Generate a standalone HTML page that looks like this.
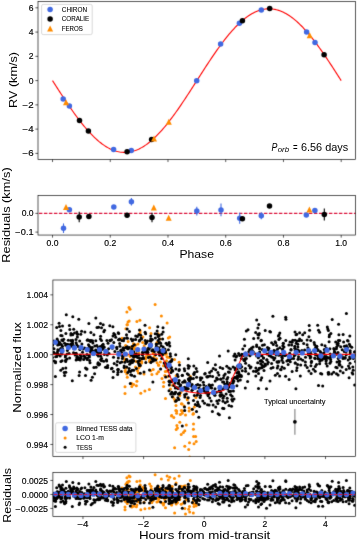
<!DOCTYPE html>
<html><head><meta charset="utf-8"><style>
html,body{margin:0;padding:0;background:#fff;overflow:hidden;}
svg{display:block;will-change:transform;font-family:"Liberation Sans", sans-serif;}
text{stroke:#000;stroke-width:0.15px;}
text.a{stroke:none;}
text.l{stroke-width:0.08px;}
</style></head><body>
<svg width="357" height="541" viewBox="0 0 357 541">
<defs><filter id="soft" x="0" y="0" width="357" height="541" filterUnits="userSpaceOnUse" color-interpolation-filters="sRGB"><feConvolveMatrix order="3" kernelMatrix="1 8 1 8 64 8 1 8 1" edgeMode="duplicate"/></filter></defs>
<g filter="url(#soft)">
<rect width="357" height="541" fill="#fff"/>
<polyline points="52.52,80.60 53.72,82.48 54.93,84.36 56.13,86.23 57.33,88.11 58.53,89.97 59.74,91.83 60.94,93.69 62.14,95.53 63.35,97.36 64.55,99.19 65.75,101.00 66.95,102.79 68.16,104.57 69.36,106.33 70.56,108.08 71.76,109.81 72.97,111.51 74.17,113.20 75.37,114.86 76.58,116.50 77.78,118.12 78.98,119.71 80.18,121.27 81.39,122.81 82.59,124.31 83.79,125.79 85.00,127.24 86.20,128.65 87.40,130.03 88.60,131.38 89.81,132.69 91.01,133.96 92.21,135.20 93.41,136.41 94.62,137.57 95.82,138.70 97.02,139.78 98.23,140.82 99.43,141.83 100.63,142.79 101.83,143.71 103.04,144.58 104.24,145.41 105.44,146.20 106.65,146.94 107.85,147.64 109.05,148.29 110.25,148.89 111.46,149.45 112.66,149.96 113.86,150.43 115.07,150.84 116.27,151.21 117.47,151.53 118.67,151.80 119.88,152.02 121.08,152.19 122.28,152.31 123.48,152.38 124.69,152.41 125.89,152.38 127.09,152.31 128.30,152.19 129.50,152.02 130.70,151.80 131.90,151.53 133.11,151.21 134.31,150.84 135.51,150.43 136.72,149.96 137.92,149.45 139.12,148.89 140.32,148.29 141.53,147.64 142.73,146.94 143.93,146.20 145.13,145.41 146.34,144.58 147.54,143.71 148.74,142.79 149.95,141.83 151.15,140.82 152.35,139.78 153.55,138.70 154.76,137.57 155.96,136.41 157.16,135.20 158.37,133.96 159.57,132.69 160.77,131.38 161.97,130.03 163.18,128.65 164.38,127.24 165.58,125.79 166.79,124.31 167.99,122.81 169.19,121.27 170.39,119.71 171.60,118.12 172.80,116.50 174.00,114.86 175.20,113.20 176.41,111.51 177.61,109.81 178.81,108.08 180.02,106.33 181.22,104.57 182.42,102.79 183.62,101.00 184.83,99.19 186.03,97.36 187.23,95.53 188.44,93.69 189.64,91.83 190.84,89.97 192.04,88.11 193.25,86.23 194.45,84.36 195.65,82.48 196.86,80.60 198.06,78.72 199.26,76.84 200.46,74.97 201.67,73.09 202.87,71.23 204.07,69.37 205.27,67.51 206.48,65.67 207.68,63.84 208.88,62.01 210.09,60.20 211.29,58.41 212.49,56.63 213.69,54.87 214.90,53.12 216.10,51.39 217.30,49.69 218.51,48.00 219.71,46.34 220.91,44.70 222.11,43.08 223.32,41.49 224.52,39.93 225.72,38.39 226.92,36.89 228.13,35.41 229.33,33.96 230.53,32.55 231.74,31.17 232.94,29.82 234.14,28.51 235.34,27.24 236.55,26.00 237.75,24.79 238.95,23.63 240.16,22.50 241.36,21.42 242.56,20.38 243.76,19.37 244.97,18.41 246.17,17.49 247.37,16.62 248.58,15.79 249.78,15.00 250.98,14.26 252.18,13.56 253.39,12.91 254.59,12.31 255.79,11.75 256.99,11.24 258.20,10.77 259.40,10.36 260.60,9.99 261.81,9.67 263.01,9.40 264.21,9.18 265.41,9.01 266.62,8.89 267.82,8.82 269.02,8.79 270.23,8.82 271.43,8.89 272.63,9.01 273.83,9.18 275.04,9.40 276.24,9.67 277.44,9.99 278.64,10.36 279.85,10.77 281.05,11.24 282.25,11.75 283.46,12.31 284.66,12.91 285.86,13.56 287.06,14.26 288.27,15.00 289.47,15.79 290.67,16.62 291.88,17.49 293.08,18.41 294.28,19.37 295.48,20.38 296.69,21.42 297.89,22.50 299.09,23.63 300.30,24.79 301.50,26.00 302.70,27.24 303.90,28.51 305.11,29.82 306.31,31.17 307.51,32.55 308.71,33.96 309.92,35.41 311.12,36.89 312.32,38.39 313.53,39.93 314.73,41.49 315.93,43.08 317.13,44.70 318.34,46.34 319.54,48.00 320.74,49.69 321.95,51.39 323.15,53.12 324.35,54.87 325.55,56.63 326.76,58.41 327.96,60.20 329.16,62.01 330.36,63.84 331.57,65.67 332.77,67.51 333.97,69.37 335.18,71.23 336.38,73.09 337.58,74.97 338.78,76.84 339.99,78.72 341.19,80.60" fill="none" stroke="#ff0000" stroke-width="1.1"/>
<circle cx="63.20" cy="98.90" r="2.75" fill="#4169e1"/>
<circle cx="69.40" cy="105.90" r="2.75" fill="#4169e1"/>
<circle cx="113.60" cy="149.60" r="2.75" fill="#4169e1"/>
<circle cx="131.30" cy="150.40" r="2.75" fill="#4169e1"/>
<circle cx="196.70" cy="80.75" r="2.75" fill="#4169e1"/>
<circle cx="220.60" cy="44.10" r="2.75" fill="#4169e1"/>
<circle cx="239.40" cy="23.30" r="2.75" fill="#4169e1"/>
<circle cx="261.30" cy="10.10" r="2.75" fill="#4169e1"/>
<circle cx="306.60" cy="31.90" r="2.75" fill="#4169e1"/>
<circle cx="315.00" cy="42.40" r="2.75" fill="#4169e1"/>
<circle cx="79.50" cy="120.40" r="2.75" fill="#000"/>
<circle cx="88.40" cy="131.10" r="2.75" fill="#000"/>
<circle cx="127.10" cy="151.80" r="2.75" fill="#000"/>
<circle cx="151.60" cy="139.60" r="2.75" fill="#000"/>
<circle cx="242.40" cy="20.80" r="2.75" fill="#000"/>
<circle cx="269.70" cy="8.40" r="2.75" fill="#000"/>
<circle cx="324.10" cy="54.80" r="2.75" fill="#000"/>
<path d="M66.00 99.20L69.00 105.20L63.00 105.20Z" fill="#ff8c00"/>
<path d="M154.00 135.40L157.00 141.40L151.00 141.40Z" fill="#ff8c00"/>
<path d="M168.80 118.70L171.80 124.70L165.80 124.70Z" fill="#ff8c00"/>
<path d="M309.70 32.30L312.70 38.30L306.70 38.30Z" fill="#ff8c00"/>
<rect x="38.0" y="1.47" width="317.50" height="157.98" fill="none" stroke="#000" stroke-width="0.65"/>
<line x1="35.40" y1="7.82" x2="38.00" y2="7.82" stroke="#000" stroke-width="0.65" />
<line x1="35.40" y1="32.08" x2="38.00" y2="32.08" stroke="#000" stroke-width="0.65" />
<line x1="35.40" y1="56.34" x2="38.00" y2="56.34" stroke="#000" stroke-width="0.65" />
<line x1="35.40" y1="80.60" x2="38.00" y2="80.60" stroke="#000" stroke-width="0.65" />
<line x1="35.40" y1="104.86" x2="38.00" y2="104.86" stroke="#000" stroke-width="0.65" />
<line x1="35.40" y1="129.12" x2="38.00" y2="129.12" stroke="#000" stroke-width="0.65" />
<line x1="35.40" y1="153.38" x2="38.00" y2="153.38" stroke="#000" stroke-width="0.65" />
<line x1="52.52" y1="159.45" x2="52.52" y2="162.05" stroke="#000" stroke-width="0.65" />
<line x1="110.25" y1="159.45" x2="110.25" y2="162.05" stroke="#000" stroke-width="0.65" />
<line x1="167.99" y1="159.45" x2="167.99" y2="162.05" stroke="#000" stroke-width="0.65" />
<line x1="225.72" y1="159.45" x2="225.72" y2="162.05" stroke="#000" stroke-width="0.65" />
<line x1="283.46" y1="159.45" x2="283.46" y2="162.05" stroke="#000" stroke-width="0.65" />
<line x1="341.19" y1="159.45" x2="341.19" y2="162.05" stroke="#000" stroke-width="0.65" />
<rect x="41.6" y="4.4" width="50.6" height="30.2" rx="1.6" fill="#fff" fill-opacity="0.8" stroke="#cccccc" stroke-width="0.75"/>
<circle cx="50.10" cy="9.60" r="2.75" fill="#4169e1"/>
<circle cx="50.10" cy="19.10" r="2.75" fill="#000"/>
<path d="M50.10 25.60L53.10 31.60L47.10 31.60Z" fill="#ff8c00"/>
<line x1="38.00" y1="213.36" x2="355.50" y2="213.36" stroke="#dc143c" stroke-width="1.15" stroke-dasharray="3.5 1.5" stroke-dashoffset="4.1"/>
<line x1="63.50" y1="223.40" x2="63.50" y2="233.00" stroke="#4169e1" stroke-width="1.1" />
<circle cx="63.50" cy="228.20" r="2.75" fill="#4169e1"/>
<circle cx="69.40" cy="209.80" r="2.75" fill="#4169e1"/>
<circle cx="113.80" cy="206.90" r="2.75" fill="#4169e1"/>
<line x1="131.40" y1="198.00" x2="131.40" y2="205.60" stroke="#4169e1" stroke-width="1.1" />
<circle cx="131.40" cy="201.80" r="2.75" fill="#4169e1"/>
<line x1="196.80" y1="206.70" x2="196.80" y2="215.50" stroke="#4169e1" stroke-width="1.1" />
<circle cx="196.80" cy="211.10" r="2.75" fill="#4169e1"/>
<line x1="221.00" y1="203.50" x2="221.00" y2="216.30" stroke="#4169e1" stroke-width="1.1" />
<circle cx="221.00" cy="209.90" r="2.75" fill="#4169e1"/>
<line x1="239.70" y1="212.70" x2="239.70" y2="223.70" stroke="#4169e1" stroke-width="1.1" />
<circle cx="239.70" cy="218.20" r="2.75" fill="#4169e1"/>
<line x1="261.30" y1="212.20" x2="261.30" y2="219.20" stroke="#4169e1" stroke-width="1.1" />
<circle cx="261.30" cy="215.70" r="2.75" fill="#4169e1"/>
<circle cx="306.30" cy="214.90" r="2.75" fill="#4169e1"/>
<circle cx="314.90" cy="210.60" r="2.75" fill="#4169e1"/>
<line x1="79.20" y1="211.70" x2="79.20" y2="222.30" stroke="#000" stroke-width="1.1" />
<circle cx="79.20" cy="217.00" r="2.75" fill="#000"/>
<circle cx="88.90" cy="216.50" r="2.75" fill="#000"/>
<circle cx="127.10" cy="215.20" r="2.75" fill="#000"/>
<line x1="152.00" y1="212.70" x2="152.00" y2="222.30" stroke="#000" stroke-width="1.1" />
<circle cx="152.00" cy="217.50" r="2.75" fill="#000"/>
<circle cx="242.40" cy="218.70" r="2.75" fill="#000"/>
<circle cx="269.50" cy="206.10" r="2.75" fill="#000"/>
<line x1="324.30" y1="208.40" x2="324.30" y2="220.40" stroke="#000" stroke-width="1.1" />
<circle cx="324.30" cy="214.40" r="2.75" fill="#000"/>
<path d="M66.00 203.90L69.00 209.90L63.00 209.90Z" fill="#ff8c00"/>
<path d="M153.80 204.40L156.80 210.40L150.80 210.40Z" fill="#ff8c00"/>
<path d="M168.70 214.70L171.70 220.70L165.70 220.70Z" fill="#ff8c00"/>
<path d="M309.40 206.40L312.40 212.40L306.40 212.40Z" fill="#ff8c00"/>
<rect x="38.0" y="195.45" width="317.50" height="39.60" fill="none" stroke="#000" stroke-width="0.65"/>
<line x1="35.40" y1="213.36" x2="38.00" y2="213.36" stroke="#000" stroke-width="0.65" />
<line x1="35.40" y1="232.10" x2="38.00" y2="232.10" stroke="#000" stroke-width="0.65" />
<line x1="52.52" y1="235.05" x2="52.52" y2="237.65" stroke="#000" stroke-width="0.65" />
<line x1="110.25" y1="235.05" x2="110.25" y2="237.65" stroke="#000" stroke-width="0.65" />
<line x1="167.99" y1="235.05" x2="167.99" y2="237.65" stroke="#000" stroke-width="0.65" />
<line x1="225.72" y1="235.05" x2="225.72" y2="237.65" stroke="#000" stroke-width="0.65" />
<line x1="283.46" y1="235.05" x2="283.46" y2="237.65" stroke="#000" stroke-width="0.65" />
<line x1="341.19" y1="235.05" x2="341.19" y2="237.65" stroke="#000" stroke-width="0.65" />
<clipPath id="cc"><rect x="52.9" y="280.0" width="302.60" height="176.45"/></clipPath>
<g clip-path="url(#cc)">
<g fill="#ff8c00"><circle cx="122.0" cy="338.3" r="1.5"/><circle cx="122.6" cy="357.2" r="1.5"/><circle cx="123.0" cy="356.7" r="1.5"/><circle cx="124.7" cy="361.2" r="1.5"/><circle cx="124.8" cy="359.0" r="1.5"/><circle cx="125.0" cy="386.7" r="1.5"/><circle cx="125.0" cy="393.4" r="1.5"/><circle cx="125.2" cy="370.6" r="1.5"/><circle cx="125.3" cy="371.7" r="1.5"/><circle cx="125.6" cy="345.5" r="1.5"/><circle cx="125.9" cy="328.7" r="1.5"/><circle cx="126.1" cy="367.9" r="1.5"/><circle cx="126.1" cy="355.0" r="1.5"/><circle cx="126.8" cy="374.1" r="1.5"/><circle cx="126.9" cy="311.9" r="1.5"/><circle cx="127.0" cy="324.7" r="1.5"/><circle cx="127.3" cy="324.7" r="1.5"/><circle cx="127.3" cy="355.0" r="1.5"/><circle cx="127.3" cy="377.2" r="1.5"/><circle cx="128.0" cy="322.1" r="1.5"/><circle cx="128.1" cy="341.4" r="1.5"/><circle cx="129.0" cy="307.4" r="1.5"/><circle cx="129.2" cy="321.1" r="1.5"/><circle cx="130.0" cy="309.3" r="1.5"/><circle cx="130.2" cy="356.6" r="1.5"/><circle cx="130.5" cy="361.0" r="1.5"/><circle cx="130.8" cy="346.9" r="1.5"/><circle cx="131.6" cy="383.5" r="1.5"/><circle cx="131.8" cy="386.4" r="1.5"/><circle cx="132.1" cy="354.1" r="1.5"/><circle cx="132.5" cy="349.1" r="1.5"/><circle cx="132.7" cy="347.9" r="1.5"/><circle cx="133.5" cy="343.8" r="1.5"/><circle cx="133.6" cy="384.5" r="1.5"/><circle cx="133.7" cy="359.8" r="1.5"/><circle cx="134.4" cy="346.6" r="1.5"/><circle cx="135.2" cy="349.0" r="1.5"/><circle cx="135.5" cy="366.9" r="1.5"/><circle cx="135.8" cy="345.0" r="1.5"/><circle cx="136.2" cy="361.6" r="1.5"/><circle cx="136.3" cy="353.5" r="1.5"/><circle cx="136.4" cy="385.7" r="1.5"/><circle cx="136.9" cy="381.2" r="1.5"/><circle cx="136.9" cy="321.5" r="1.5"/><circle cx="137.4" cy="350.6" r="1.5"/><circle cx="137.5" cy="370.8" r="1.5"/><circle cx="138.0" cy="343.9" r="1.5"/><circle cx="138.4" cy="373.1" r="1.5"/><circle cx="138.5" cy="362.1" r="1.5"/><circle cx="138.6" cy="368.1" r="1.5"/><circle cx="138.8" cy="352.9" r="1.5"/><circle cx="139.1" cy="361.4" r="1.5"/><circle cx="139.7" cy="366.5" r="1.5"/><circle cx="139.9" cy="320.3" r="1.5"/><circle cx="140.1" cy="333.1" r="1.5"/><circle cx="140.2" cy="330.8" r="1.5"/><circle cx="140.8" cy="393.3" r="1.5"/><circle cx="141.6" cy="361.4" r="1.5"/><circle cx="141.7" cy="363.0" r="1.5"/><circle cx="141.8" cy="358.4" r="1.5"/><circle cx="142.7" cy="342.4" r="1.5"/><circle cx="142.9" cy="337.1" r="1.5"/><circle cx="144.0" cy="374.0" r="1.5"/><circle cx="144.2" cy="345.7" r="1.5"/><circle cx="144.9" cy="390.9" r="1.5"/><circle cx="145.6" cy="358.9" r="1.5"/><circle cx="146.1" cy="356.5" r="1.5"/><circle cx="146.4" cy="349.3" r="1.5"/><circle cx="146.9" cy="352.7" r="1.5"/><circle cx="148.7" cy="355.2" r="1.5"/><circle cx="149.4" cy="389.6" r="1.5"/><circle cx="149.5" cy="361.5" r="1.5"/><circle cx="149.6" cy="327.7" r="1.5"/><circle cx="149.7" cy="360.3" r="1.5"/><circle cx="150.7" cy="370.8" r="1.5"/><circle cx="151.0" cy="333.6" r="1.5"/><circle cx="151.3" cy="339.8" r="1.5"/><circle cx="151.5" cy="343.9" r="1.5"/><circle cx="151.9" cy="374.6" r="1.5"/><circle cx="153.2" cy="369.5" r="1.5"/><circle cx="153.3" cy="353.4" r="1.5"/><circle cx="153.4" cy="352.3" r="1.5"/><circle cx="154.2" cy="356.4" r="1.5"/><circle cx="154.2" cy="360.2" r="1.5"/><circle cx="155.1" cy="304.5" r="1.5"/><circle cx="156.6" cy="358.7" r="1.5"/><circle cx="156.9" cy="373.8" r="1.5"/><circle cx="157.0" cy="342.5" r="1.5"/><circle cx="157.1" cy="362.7" r="1.5"/><circle cx="157.4" cy="347.3" r="1.5"/><circle cx="157.5" cy="351.1" r="1.5"/><circle cx="158.2" cy="333.7" r="1.5"/><circle cx="158.3" cy="335.7" r="1.5"/><circle cx="158.4" cy="365.1" r="1.5"/><circle cx="158.5" cy="371.8" r="1.5"/><circle cx="158.7" cy="365.2" r="1.5"/><circle cx="160.2" cy="339.1" r="1.5"/><circle cx="160.4" cy="362.0" r="1.5"/><circle cx="161.4" cy="316.1" r="1.5"/><circle cx="162.0" cy="378.4" r="1.5"/><circle cx="162.0" cy="355.8" r="1.5"/><circle cx="163.5" cy="365.8" r="1.5"/><circle cx="163.5" cy="386.6" r="1.5"/><circle cx="163.5" cy="350.0" r="1.5"/><circle cx="163.7" cy="382.2" r="1.5"/><circle cx="164.6" cy="352.2" r="1.5"/><circle cx="164.8" cy="375.5" r="1.5"/><circle cx="165.1" cy="354.3" r="1.5"/><circle cx="165.3" cy="371.4" r="1.5"/><circle cx="165.5" cy="398.6" r="1.5"/><circle cx="165.8" cy="351.1" r="1.5"/><circle cx="166.3" cy="353.7" r="1.5"/><circle cx="166.5" cy="360.7" r="1.5"/><circle cx="166.9" cy="376.7" r="1.5"/><circle cx="167.0" cy="371.3" r="1.5"/><circle cx="167.0" cy="356.8" r="1.5"/><circle cx="167.1" cy="323.1" r="1.5"/><circle cx="167.6" cy="357.3" r="1.5"/><circle cx="168.3" cy="338.1" r="1.5"/><circle cx="169.0" cy="364.9" r="1.5"/><circle cx="169.5" cy="380.7" r="1.5"/><circle cx="169.5" cy="357.6" r="1.5"/><circle cx="169.5" cy="364.1" r="1.5"/><circle cx="169.7" cy="337.0" r="1.5"/><circle cx="170.5" cy="389.0" r="1.5"/><circle cx="171.4" cy="370.8" r="1.5"/><circle cx="171.6" cy="416.0" r="1.5"/><circle cx="171.7" cy="415.6" r="1.5"/><circle cx="172.2" cy="371.1" r="1.5"/><circle cx="172.6" cy="385.3" r="1.5"/><circle cx="173.0" cy="397.3" r="1.5"/><circle cx="173.8" cy="417.6" r="1.5"/><circle cx="174.5" cy="359.6" r="1.5"/><circle cx="174.6" cy="399.6" r="1.5"/><circle cx="174.6" cy="447.8" r="1.5"/><circle cx="175.3" cy="401.2" r="1.5"/><circle cx="175.8" cy="410.5" r="1.5"/><circle cx="176.0" cy="405.4" r="1.5"/><circle cx="176.1" cy="375.8" r="1.5"/><circle cx="176.2" cy="429.5" r="1.5"/><circle cx="176.6" cy="413.3" r="1.5"/><circle cx="176.7" cy="410.9" r="1.5"/><circle cx="176.9" cy="425.5" r="1.5"/><circle cx="177.5" cy="428.0" r="1.5"/><circle cx="179.1" cy="362.3" r="1.5"/><circle cx="179.8" cy="422.2" r="1.5"/><circle cx="179.8" cy="395.5" r="1.5"/><circle cx="180.4" cy="414.4" r="1.5"/><circle cx="180.8" cy="392.6" r="1.5"/><circle cx="180.9" cy="388.9" r="1.5"/><circle cx="181.2" cy="434.6" r="1.5"/><circle cx="181.3" cy="410.5" r="1.5"/><circle cx="181.4" cy="403.7" r="1.5"/><circle cx="182.1" cy="403.9" r="1.5"/><circle cx="182.2" cy="413.2" r="1.5"/><circle cx="182.6" cy="410.9" r="1.5"/><circle cx="183.4" cy="432.4" r="1.5"/><circle cx="183.5" cy="389.8" r="1.5"/><circle cx="184.1" cy="406.0" r="1.5"/><circle cx="184.8" cy="430.8" r="1.5"/><circle cx="184.8" cy="446.3" r="1.5"/><circle cx="185.1" cy="388.9" r="1.5"/><circle cx="185.5" cy="461.0" r="1.5"/><circle cx="185.5" cy="414.9" r="1.5"/><circle cx="186.3" cy="425.0" r="1.5"/><circle cx="187.3" cy="399.7" r="1.5"/><circle cx="187.4" cy="398.0" r="1.5"/><circle cx="188.7" cy="449.5" r="1.5"/><circle cx="189.1" cy="408.1" r="1.5"/><circle cx="189.1" cy="411.1" r="1.5"/><circle cx="189.5" cy="442.8" r="1.5"/><circle cx="189.7" cy="457.0" r="1.5"/><circle cx="190.3" cy="376.4" r="1.5"/><circle cx="192.1" cy="409.6" r="1.5"/><circle cx="193.0" cy="414.2" r="1.5"/><circle cx="193.3" cy="460.0" r="1.5"/><circle cx="193.4" cy="429.2" r="1.5"/><circle cx="193.4" cy="413.4" r="1.5"/><circle cx="193.5" cy="424.0" r="1.5"/><circle cx="193.6" cy="436.4" r="1.5"/><circle cx="194.0" cy="443.7" r="1.5"/><circle cx="194.3" cy="406.9" r="1.5"/><circle cx="195.6" cy="436.6" r="1.5"/><circle cx="195.9" cy="397.6" r="1.5"/><circle cx="196.2" cy="441.5" r="1.5"/></g>
<g fill="#000"><circle cx="52.2" cy="347.4" r="1.5"/><circle cx="52.4" cy="357.5" r="1.5"/><circle cx="52.7" cy="344.9" r="1.5"/><circle cx="53.6" cy="352.3" r="1.5"/><circle cx="53.9" cy="341.0" r="1.5"/><circle cx="54.0" cy="348.7" r="1.5"/><circle cx="54.1" cy="360.9" r="1.5"/><circle cx="54.5" cy="353.3" r="1.5"/><circle cx="55.4" cy="376.5" r="1.5"/><circle cx="55.5" cy="362.7" r="1.5"/><circle cx="55.6" cy="361.8" r="1.5"/><circle cx="55.7" cy="356.7" r="1.5"/><circle cx="56.7" cy="327.5" r="1.5"/><circle cx="56.8" cy="356.6" r="1.5"/><circle cx="57.1" cy="353.8" r="1.5"/><circle cx="57.1" cy="339.1" r="1.5"/><circle cx="57.4" cy="353.9" r="1.5"/><circle cx="57.5" cy="351.8" r="1.5"/><circle cx="57.6" cy="340.4" r="1.5"/><circle cx="57.7" cy="345.0" r="1.5"/><circle cx="57.8" cy="343.2" r="1.5"/><circle cx="57.8" cy="349.7" r="1.5"/><circle cx="58.4" cy="341.9" r="1.5"/><circle cx="58.5" cy="354.5" r="1.5"/><circle cx="59.1" cy="323.2" r="1.5"/><circle cx="59.3" cy="344.6" r="1.5"/><circle cx="59.5" cy="326.6" r="1.5"/><circle cx="59.7" cy="342.4" r="1.5"/><circle cx="60.2" cy="356.0" r="1.5"/><circle cx="60.3" cy="349.7" r="1.5"/><circle cx="60.7" cy="348.4" r="1.5"/><circle cx="60.7" cy="350.7" r="1.5"/><circle cx="60.8" cy="370.3" r="1.5"/><circle cx="60.8" cy="335.6" r="1.5"/><circle cx="60.9" cy="361.5" r="1.5"/><circle cx="60.9" cy="330.4" r="1.5"/><circle cx="61.4" cy="344.5" r="1.5"/><circle cx="61.5" cy="352.8" r="1.5"/><circle cx="61.8" cy="340.0" r="1.5"/><circle cx="62.0" cy="353.9" r="1.5"/><circle cx="62.1" cy="360.7" r="1.5"/><circle cx="62.1" cy="335.8" r="1.5"/><circle cx="62.1" cy="350.3" r="1.5"/><circle cx="62.4" cy="346.3" r="1.5"/><circle cx="62.5" cy="325.9" r="1.5"/><circle cx="62.6" cy="348.7" r="1.5"/><circle cx="62.8" cy="340.7" r="1.5"/><circle cx="62.9" cy="368.4" r="1.5"/><circle cx="63.7" cy="339.2" r="1.5"/><circle cx="64.2" cy="372.5" r="1.5"/><circle cx="64.6" cy="343.3" r="1.5"/><circle cx="64.6" cy="375.4" r="1.5"/><circle cx="65.3" cy="356.9" r="1.5"/><circle cx="65.4" cy="355.7" r="1.5"/><circle cx="65.6" cy="360.2" r="1.5"/><circle cx="65.7" cy="361.5" r="1.5"/><circle cx="65.8" cy="367.9" r="1.5"/><circle cx="65.8" cy="372.2" r="1.5"/><circle cx="65.8" cy="345.2" r="1.5"/><circle cx="65.9" cy="333.4" r="1.5"/><circle cx="66.3" cy="314.7" r="1.5"/><circle cx="66.8" cy="344.2" r="1.5"/><circle cx="67.0" cy="359.0" r="1.5"/><circle cx="67.2" cy="354.0" r="1.5"/><circle cx="67.4" cy="350.4" r="1.5"/><circle cx="67.5" cy="344.4" r="1.5"/><circle cx="68.3" cy="340.3" r="1.5"/><circle cx="68.6" cy="344.8" r="1.5"/><circle cx="69.1" cy="353.6" r="1.5"/><circle cx="69.4" cy="325.6" r="1.5"/><circle cx="69.6" cy="358.1" r="1.5"/><circle cx="69.8" cy="329.6" r="1.5"/><circle cx="70.5" cy="346.6" r="1.5"/><circle cx="70.8" cy="340.4" r="1.5"/><circle cx="70.8" cy="343.9" r="1.5"/><circle cx="70.9" cy="335.0" r="1.5"/><circle cx="71.0" cy="333.6" r="1.5"/><circle cx="72.2" cy="345.7" r="1.5"/><circle cx="72.2" cy="334.6" r="1.5"/><circle cx="72.3" cy="380.7" r="1.5"/><circle cx="72.4" cy="343.3" r="1.5"/><circle cx="72.5" cy="340.2" r="1.5"/><circle cx="72.5" cy="341.5" r="1.5"/><circle cx="72.6" cy="334.7" r="1.5"/><circle cx="72.8" cy="316.8" r="1.5"/><circle cx="73.4" cy="345.4" r="1.5"/><circle cx="73.5" cy="352.8" r="1.5"/><circle cx="73.7" cy="329.2" r="1.5"/><circle cx="74.2" cy="348.8" r="1.5"/><circle cx="74.5" cy="333.0" r="1.5"/><circle cx="74.8" cy="348.3" r="1.5"/><circle cx="75.1" cy="353.4" r="1.5"/><circle cx="75.2" cy="355.0" r="1.5"/><circle cx="75.9" cy="354.3" r="1.5"/><circle cx="76.0" cy="339.5" r="1.5"/><circle cx="76.1" cy="360.1" r="1.5"/><circle cx="76.1" cy="342.8" r="1.5"/><circle cx="76.2" cy="353.2" r="1.5"/><circle cx="76.8" cy="357.8" r="1.5"/><circle cx="76.8" cy="344.7" r="1.5"/><circle cx="76.8" cy="331.9" r="1.5"/><circle cx="77.3" cy="356.6" r="1.5"/><circle cx="77.3" cy="334.1" r="1.5"/><circle cx="77.4" cy="337.0" r="1.5"/><circle cx="77.5" cy="334.3" r="1.5"/><circle cx="78.2" cy="359.5" r="1.5"/><circle cx="78.3" cy="346.4" r="1.5"/><circle cx="78.8" cy="319.3" r="1.5"/><circle cx="79.1" cy="358.1" r="1.5"/><circle cx="79.1" cy="375.4" r="1.5"/><circle cx="79.6" cy="371.9" r="1.5"/><circle cx="79.7" cy="341.1" r="1.5"/><circle cx="79.8" cy="349.5" r="1.5"/><circle cx="80.2" cy="355.1" r="1.5"/><circle cx="80.2" cy="360.1" r="1.5"/><circle cx="80.2" cy="348.9" r="1.5"/><circle cx="80.8" cy="334.2" r="1.5"/><circle cx="80.9" cy="358.2" r="1.5"/><circle cx="81.2" cy="356.4" r="1.5"/><circle cx="81.6" cy="331.3" r="1.5"/><circle cx="81.9" cy="343.9" r="1.5"/><circle cx="82.5" cy="352.3" r="1.5"/><circle cx="83.0" cy="348.9" r="1.5"/><circle cx="83.7" cy="356.0" r="1.5"/><circle cx="83.7" cy="359.5" r="1.5"/><circle cx="84.6" cy="356.5" r="1.5"/><circle cx="84.7" cy="348.0" r="1.5"/><circle cx="84.9" cy="332.0" r="1.5"/><circle cx="85.4" cy="357.7" r="1.5"/><circle cx="85.5" cy="367.9" r="1.5"/><circle cx="85.5" cy="375.4" r="1.5"/><circle cx="86.3" cy="349.5" r="1.5"/><circle cx="86.5" cy="349.5" r="1.5"/><circle cx="86.6" cy="368.9" r="1.5"/><circle cx="87.0" cy="368.9" r="1.5"/><circle cx="87.0" cy="354.6" r="1.5"/><circle cx="87.1" cy="359.5" r="1.5"/><circle cx="87.2" cy="340.3" r="1.5"/><circle cx="87.5" cy="358.0" r="1.5"/><circle cx="87.7" cy="339.7" r="1.5"/><circle cx="87.8" cy="348.6" r="1.5"/><circle cx="88.1" cy="349.1" r="1.5"/><circle cx="88.5" cy="344.8" r="1.5"/><circle cx="88.9" cy="323.6" r="1.5"/><circle cx="89.1" cy="340.5" r="1.5"/><circle cx="89.2" cy="355.5" r="1.5"/><circle cx="89.2" cy="350.4" r="1.5"/><circle cx="89.2" cy="346.1" r="1.5"/><circle cx="89.4" cy="356.9" r="1.5"/><circle cx="89.6" cy="360.4" r="1.5"/><circle cx="90.0" cy="362.7" r="1.5"/><circle cx="90.5" cy="341.4" r="1.5"/><circle cx="90.7" cy="352.2" r="1.5"/><circle cx="90.7" cy="347.6" r="1.5"/><circle cx="90.8" cy="340.6" r="1.5"/><circle cx="90.9" cy="332.6" r="1.5"/><circle cx="90.9" cy="350.8" r="1.5"/><circle cx="91.1" cy="340.8" r="1.5"/><circle cx="91.1" cy="380.2" r="1.5"/><circle cx="91.5" cy="351.1" r="1.5"/><circle cx="91.7" cy="349.6" r="1.5"/><circle cx="92.3" cy="347.6" r="1.5"/><circle cx="92.4" cy="377.2" r="1.5"/><circle cx="92.5" cy="340.7" r="1.5"/><circle cx="92.8" cy="350.9" r="1.5"/><circle cx="92.9" cy="343.1" r="1.5"/><circle cx="93.8" cy="351.6" r="1.5"/><circle cx="93.9" cy="352.7" r="1.5"/><circle cx="93.9" cy="367.5" r="1.5"/><circle cx="93.9" cy="334.8" r="1.5"/><circle cx="94.6" cy="352.6" r="1.5"/><circle cx="94.6" cy="373.8" r="1.5"/><circle cx="94.8" cy="346.1" r="1.5"/><circle cx="95.7" cy="349.9" r="1.5"/><circle cx="95.8" cy="340.7" r="1.5"/><circle cx="95.8" cy="318.1" r="1.5"/><circle cx="96.0" cy="350.7" r="1.5"/><circle cx="96.1" cy="367.3" r="1.5"/><circle cx="96.9" cy="345.5" r="1.5"/><circle cx="97.0" cy="327.5" r="1.5"/><circle cx="97.4" cy="354.8" r="1.5"/><circle cx="97.5" cy="352.3" r="1.5"/><circle cx="97.8" cy="364.1" r="1.5"/><circle cx="98.1" cy="362.8" r="1.5"/><circle cx="98.1" cy="347.4" r="1.5"/><circle cx="98.4" cy="356.0" r="1.5"/><circle cx="98.6" cy="327.3" r="1.5"/><circle cx="98.7" cy="365.1" r="1.5"/><circle cx="99.1" cy="352.8" r="1.5"/><circle cx="99.4" cy="364.3" r="1.5"/><circle cx="99.5" cy="364.0" r="1.5"/><circle cx="100.3" cy="346.6" r="1.5"/><circle cx="100.4" cy="348.4" r="1.5"/><circle cx="100.4" cy="339.0" r="1.5"/><circle cx="100.5" cy="323.5" r="1.5"/><circle cx="100.5" cy="348.7" r="1.5"/><circle cx="100.6" cy="352.4" r="1.5"/><circle cx="100.6" cy="336.3" r="1.5"/><circle cx="100.6" cy="359.7" r="1.5"/><circle cx="100.6" cy="351.7" r="1.5"/><circle cx="100.7" cy="356.3" r="1.5"/><circle cx="101.5" cy="340.6" r="1.5"/><circle cx="101.5" cy="327.7" r="1.5"/><circle cx="101.5" cy="360.7" r="1.5"/><circle cx="101.6" cy="358.6" r="1.5"/><circle cx="101.9" cy="349.3" r="1.5"/><circle cx="102.2" cy="345.3" r="1.5"/><circle cx="102.5" cy="347.2" r="1.5"/><circle cx="102.9" cy="349.1" r="1.5"/><circle cx="103.1" cy="344.3" r="1.5"/><circle cx="103.2" cy="324.8" r="1.5"/><circle cx="103.7" cy="361.3" r="1.5"/><circle cx="103.8" cy="331.7" r="1.5"/><circle cx="103.9" cy="346.8" r="1.5"/><circle cx="104.1" cy="347.2" r="1.5"/><circle cx="104.4" cy="354.6" r="1.5"/><circle cx="104.5" cy="330.3" r="1.5"/><circle cx="105.5" cy="367.2" r="1.5"/><circle cx="106.4" cy="359.7" r="1.5"/><circle cx="106.7" cy="361.0" r="1.5"/><circle cx="106.9" cy="367.4" r="1.5"/><circle cx="106.9" cy="340.5" r="1.5"/><circle cx="107.1" cy="350.9" r="1.5"/><circle cx="107.3" cy="355.0" r="1.5"/><circle cx="107.6" cy="367.6" r="1.5"/><circle cx="107.7" cy="365.6" r="1.5"/><circle cx="108.0" cy="343.3" r="1.5"/><circle cx="108.6" cy="348.7" r="1.5"/><circle cx="109.0" cy="353.4" r="1.5"/><circle cx="109.8" cy="325.7" r="1.5"/><circle cx="109.8" cy="340.5" r="1.5"/><circle cx="110.3" cy="340.7" r="1.5"/><circle cx="111.4" cy="368.8" r="1.5"/><circle cx="111.5" cy="339.8" r="1.5"/><circle cx="112.0" cy="368.3" r="1.5"/><circle cx="112.4" cy="348.3" r="1.5"/><circle cx="112.9" cy="326.8" r="1.5"/><circle cx="113.0" cy="377.5" r="1.5"/><circle cx="113.0" cy="336.1" r="1.5"/><circle cx="113.5" cy="357.2" r="1.5"/><circle cx="113.5" cy="371.4" r="1.5"/><circle cx="113.8" cy="342.5" r="1.5"/><circle cx="113.8" cy="333.6" r="1.5"/><circle cx="114.2" cy="363.4" r="1.5"/><circle cx="114.9" cy="351.4" r="1.5"/><circle cx="115.0" cy="334.7" r="1.5"/><circle cx="115.7" cy="337.3" r="1.5"/><circle cx="116.7" cy="347.2" r="1.5"/><circle cx="116.8" cy="364.9" r="1.5"/><circle cx="116.9" cy="348.7" r="1.5"/><circle cx="117.4" cy="361.4" r="1.5"/><circle cx="117.6" cy="374.5" r="1.5"/><circle cx="117.8" cy="369.8" r="1.5"/><circle cx="118.0" cy="372.2" r="1.5"/><circle cx="118.0" cy="369.5" r="1.5"/><circle cx="118.2" cy="332.7" r="1.5"/><circle cx="118.3" cy="369.6" r="1.5"/><circle cx="118.3" cy="358.0" r="1.5"/><circle cx="118.4" cy="352.3" r="1.5"/><circle cx="118.5" cy="339.8" r="1.5"/><circle cx="118.7" cy="333.5" r="1.5"/><circle cx="119.1" cy="339.8" r="1.5"/><circle cx="119.3" cy="353.9" r="1.5"/><circle cx="119.6" cy="338.9" r="1.5"/><circle cx="119.7" cy="343.6" r="1.5"/><circle cx="119.9" cy="346.2" r="1.5"/><circle cx="120.1" cy="362.8" r="1.5"/><circle cx="120.8" cy="350.3" r="1.5"/><circle cx="121.4" cy="352.3" r="1.5"/><circle cx="121.4" cy="371.4" r="1.5"/><circle cx="121.5" cy="350.0" r="1.5"/><circle cx="121.7" cy="361.9" r="1.5"/><circle cx="121.9" cy="340.4" r="1.5"/><circle cx="122.4" cy="358.4" r="1.5"/><circle cx="122.6" cy="355.7" r="1.5"/><circle cx="122.9" cy="356.4" r="1.5"/><circle cx="123.0" cy="348.0" r="1.5"/><circle cx="123.5" cy="340.7" r="1.5"/><circle cx="123.7" cy="350.2" r="1.5"/><circle cx="123.9" cy="348.0" r="1.5"/><circle cx="124.1" cy="367.5" r="1.5"/><circle cx="124.2" cy="365.9" r="1.5"/><circle cx="124.3" cy="338.4" r="1.5"/><circle cx="124.9" cy="362.2" r="1.5"/><circle cx="125.8" cy="347.7" r="1.5"/><circle cx="126.3" cy="359.8" r="1.5"/><circle cx="126.3" cy="347.6" r="1.5"/><circle cx="126.5" cy="334.7" r="1.5"/><circle cx="126.7" cy="367.0" r="1.5"/><circle cx="126.8" cy="359.6" r="1.5"/><circle cx="126.8" cy="337.8" r="1.5"/><circle cx="127.2" cy="329.1" r="1.5"/><circle cx="127.3" cy="346.7" r="1.5"/><circle cx="127.4" cy="338.2" r="1.5"/><circle cx="127.6" cy="348.8" r="1.5"/><circle cx="127.7" cy="361.6" r="1.5"/><circle cx="127.8" cy="372.6" r="1.5"/><circle cx="128.3" cy="348.7" r="1.5"/><circle cx="129.0" cy="371.1" r="1.5"/><circle cx="129.1" cy="368.4" r="1.5"/><circle cx="129.2" cy="347.5" r="1.5"/><circle cx="129.4" cy="331.5" r="1.5"/><circle cx="129.6" cy="364.2" r="1.5"/><circle cx="130.1" cy="360.9" r="1.5"/><circle cx="130.3" cy="383.5" r="1.5"/><circle cx="130.5" cy="371.5" r="1.5"/><circle cx="130.6" cy="363.1" r="1.5"/><circle cx="130.8" cy="374.8" r="1.5"/><circle cx="131.2" cy="339.1" r="1.5"/><circle cx="131.4" cy="355.3" r="1.5"/><circle cx="131.7" cy="349.1" r="1.5"/><circle cx="131.8" cy="375.2" r="1.5"/><circle cx="132.0" cy="359.9" r="1.5"/><circle cx="132.0" cy="360.7" r="1.5"/><circle cx="132.1" cy="370.3" r="1.5"/><circle cx="132.3" cy="340.7" r="1.5"/><circle cx="132.4" cy="362.5" r="1.5"/><circle cx="132.4" cy="346.2" r="1.5"/><circle cx="132.7" cy="355.5" r="1.5"/><circle cx="132.8" cy="360.6" r="1.5"/><circle cx="133.2" cy="354.7" r="1.5"/><circle cx="133.3" cy="339.7" r="1.5"/><circle cx="133.7" cy="370.2" r="1.5"/><circle cx="133.7" cy="357.2" r="1.5"/><circle cx="133.8" cy="351.8" r="1.5"/><circle cx="133.9" cy="361.1" r="1.5"/><circle cx="134.4" cy="344.8" r="1.5"/><circle cx="134.5" cy="376.3" r="1.5"/><circle cx="134.9" cy="354.5" r="1.5"/><circle cx="135.2" cy="356.3" r="1.5"/><circle cx="135.5" cy="355.9" r="1.5"/><circle cx="135.7" cy="339.5" r="1.5"/><circle cx="135.7" cy="336.1" r="1.5"/><circle cx="136.3" cy="354.0" r="1.5"/><circle cx="136.3" cy="355.7" r="1.5"/><circle cx="136.4" cy="368.6" r="1.5"/><circle cx="136.8" cy="356.8" r="1.5"/><circle cx="137.4" cy="336.6" r="1.5"/><circle cx="137.7" cy="357.5" r="1.5"/><circle cx="137.8" cy="361.4" r="1.5"/><circle cx="138.6" cy="363.6" r="1.5"/><circle cx="138.8" cy="354.9" r="1.5"/><circle cx="138.9" cy="334.6" r="1.5"/><circle cx="139.3" cy="365.6" r="1.5"/><circle cx="139.3" cy="341.0" r="1.5"/><circle cx="139.5" cy="357.9" r="1.5"/><circle cx="139.5" cy="330.0" r="1.5"/><circle cx="139.5" cy="360.4" r="1.5"/><circle cx="139.6" cy="340.3" r="1.5"/><circle cx="139.7" cy="364.5" r="1.5"/><circle cx="140.3" cy="373.3" r="1.5"/><circle cx="140.3" cy="365.6" r="1.5"/><circle cx="140.7" cy="335.2" r="1.5"/><circle cx="141.1" cy="338.0" r="1.5"/><circle cx="141.5" cy="338.9" r="1.5"/><circle cx="141.9" cy="358.8" r="1.5"/><circle cx="142.3" cy="354.7" r="1.5"/><circle cx="142.5" cy="352.2" r="1.5"/><circle cx="142.8" cy="354.2" r="1.5"/><circle cx="143.2" cy="357.6" r="1.5"/><circle cx="143.6" cy="358.5" r="1.5"/><circle cx="144.0" cy="372.0" r="1.5"/><circle cx="145.0" cy="348.8" r="1.5"/><circle cx="145.0" cy="352.1" r="1.5"/><circle cx="145.0" cy="325.3" r="1.5"/><circle cx="145.1" cy="332.2" r="1.5"/><circle cx="145.2" cy="340.4" r="1.5"/><circle cx="145.6" cy="333.8" r="1.5"/><circle cx="145.7" cy="352.0" r="1.5"/><circle cx="145.8" cy="362.6" r="1.5"/><circle cx="145.8" cy="343.4" r="1.5"/><circle cx="146.1" cy="342.6" r="1.5"/><circle cx="146.6" cy="342.0" r="1.5"/><circle cx="147.0" cy="350.1" r="1.5"/><circle cx="147.5" cy="341.1" r="1.5"/><circle cx="147.6" cy="353.7" r="1.5"/><circle cx="147.8" cy="351.9" r="1.5"/><circle cx="147.8" cy="352.4" r="1.5"/><circle cx="148.4" cy="357.6" r="1.5"/><circle cx="148.5" cy="348.0" r="1.5"/><circle cx="148.9" cy="349.3" r="1.5"/><circle cx="149.5" cy="370.0" r="1.5"/><circle cx="149.6" cy="346.5" r="1.5"/><circle cx="150.3" cy="357.1" r="1.5"/><circle cx="150.4" cy="347.3" r="1.5"/><circle cx="150.5" cy="340.6" r="1.5"/><circle cx="150.6" cy="340.7" r="1.5"/><circle cx="150.7" cy="336.0" r="1.5"/><circle cx="150.7" cy="346.8" r="1.5"/><circle cx="150.8" cy="338.8" r="1.5"/><circle cx="150.8" cy="341.2" r="1.5"/><circle cx="150.8" cy="362.6" r="1.5"/><circle cx="151.3" cy="345.2" r="1.5"/><circle cx="151.4" cy="361.8" r="1.5"/><circle cx="151.9" cy="350.7" r="1.5"/><circle cx="151.9" cy="358.5" r="1.5"/><circle cx="152.4" cy="339.6" r="1.5"/><circle cx="152.9" cy="349.7" r="1.5"/><circle cx="152.9" cy="382.1" r="1.5"/><circle cx="153.2" cy="358.7" r="1.5"/><circle cx="153.2" cy="361.0" r="1.5"/><circle cx="154.4" cy="351.6" r="1.5"/><circle cx="154.5" cy="359.7" r="1.5"/><circle cx="155.2" cy="333.8" r="1.5"/><circle cx="155.4" cy="338.0" r="1.5"/><circle cx="155.6" cy="354.7" r="1.5"/><circle cx="155.7" cy="359.9" r="1.5"/><circle cx="156.2" cy="344.1" r="1.5"/><circle cx="156.2" cy="347.0" r="1.5"/><circle cx="156.4" cy="344.8" r="1.5"/><circle cx="156.6" cy="347.2" r="1.5"/><circle cx="157.1" cy="334.0" r="1.5"/><circle cx="157.1" cy="330.9" r="1.5"/><circle cx="157.5" cy="348.4" r="1.5"/><circle cx="157.8" cy="326.7" r="1.5"/><circle cx="158.1" cy="336.5" r="1.5"/><circle cx="158.1" cy="340.6" r="1.5"/><circle cx="158.2" cy="335.4" r="1.5"/><circle cx="158.5" cy="352.1" r="1.5"/><circle cx="158.7" cy="343.2" r="1.5"/><circle cx="159.0" cy="347.8" r="1.5"/><circle cx="159.2" cy="335.6" r="1.5"/><circle cx="159.4" cy="339.0" r="1.5"/><circle cx="159.7" cy="355.2" r="1.5"/><circle cx="159.8" cy="353.2" r="1.5"/><circle cx="159.8" cy="342.4" r="1.5"/><circle cx="159.8" cy="353.2" r="1.5"/><circle cx="160.0" cy="350.8" r="1.5"/><circle cx="160.2" cy="350.4" r="1.5"/><circle cx="160.6" cy="369.1" r="1.5"/><circle cx="160.6" cy="343.2" r="1.5"/><circle cx="160.7" cy="353.9" r="1.5"/><circle cx="161.1" cy="354.2" r="1.5"/><circle cx="161.3" cy="345.8" r="1.5"/><circle cx="161.7" cy="334.2" r="1.5"/><circle cx="161.7" cy="358.4" r="1.5"/><circle cx="161.8" cy="352.9" r="1.5"/><circle cx="161.9" cy="350.3" r="1.5"/><circle cx="162.1" cy="350.3" r="1.5"/><circle cx="162.5" cy="350.8" r="1.5"/><circle cx="162.6" cy="339.1" r="1.5"/><circle cx="162.7" cy="354.6" r="1.5"/><circle cx="163.0" cy="327.8" r="1.5"/><circle cx="163.0" cy="350.9" r="1.5"/><circle cx="163.1" cy="331.9" r="1.5"/><circle cx="163.2" cy="346.9" r="1.5"/><circle cx="164.2" cy="362.9" r="1.5"/><circle cx="164.6" cy="351.2" r="1.5"/><circle cx="164.9" cy="349.1" r="1.5"/><circle cx="165.2" cy="362.9" r="1.5"/><circle cx="165.2" cy="352.8" r="1.5"/><circle cx="165.4" cy="351.6" r="1.5"/><circle cx="165.5" cy="351.9" r="1.5"/><circle cx="165.6" cy="377.0" r="1.5"/><circle cx="165.6" cy="366.0" r="1.5"/><circle cx="165.9" cy="364.4" r="1.5"/><circle cx="166.1" cy="343.2" r="1.5"/><circle cx="166.4" cy="367.3" r="1.5"/><circle cx="167.3" cy="344.7" r="1.5"/><circle cx="168.3" cy="370.1" r="1.5"/><circle cx="168.4" cy="349.7" r="1.5"/><circle cx="169.0" cy="390.8" r="1.5"/><circle cx="169.0" cy="343.6" r="1.5"/><circle cx="169.0" cy="381.3" r="1.5"/><circle cx="169.0" cy="376.0" r="1.5"/><circle cx="169.1" cy="342.6" r="1.5"/><circle cx="169.1" cy="362.7" r="1.5"/><circle cx="169.3" cy="385.1" r="1.5"/><circle cx="169.8" cy="382.3" r="1.5"/><circle cx="169.8" cy="346.0" r="1.5"/><circle cx="170.2" cy="362.0" r="1.5"/><circle cx="170.3" cy="353.7" r="1.5"/><circle cx="170.5" cy="356.3" r="1.5"/><circle cx="170.6" cy="361.4" r="1.5"/><circle cx="170.7" cy="394.0" r="1.5"/><circle cx="171.0" cy="372.5" r="1.5"/><circle cx="171.0" cy="368.1" r="1.5"/><circle cx="171.2" cy="367.3" r="1.5"/><circle cx="171.6" cy="381.1" r="1.5"/><circle cx="171.7" cy="381.8" r="1.5"/><circle cx="171.7" cy="360.9" r="1.5"/><circle cx="171.9" cy="392.3" r="1.5"/><circle cx="172.0" cy="359.5" r="1.5"/><circle cx="172.0" cy="370.1" r="1.5"/><circle cx="172.2" cy="379.9" r="1.5"/><circle cx="172.3" cy="396.8" r="1.5"/><circle cx="172.8" cy="371.1" r="1.5"/><circle cx="173.3" cy="380.3" r="1.5"/><circle cx="173.5" cy="393.9" r="1.5"/><circle cx="173.8" cy="385.6" r="1.5"/><circle cx="174.8" cy="393.8" r="1.5"/><circle cx="175.0" cy="392.8" r="1.5"/><circle cx="175.2" cy="383.1" r="1.5"/><circle cx="175.3" cy="388.0" r="1.5"/><circle cx="175.6" cy="392.3" r="1.5"/><circle cx="175.7" cy="380.1" r="1.5"/><circle cx="175.7" cy="401.3" r="1.5"/><circle cx="175.7" cy="354.7" r="1.5"/><circle cx="175.9" cy="368.9" r="1.5"/><circle cx="176.4" cy="400.4" r="1.5"/><circle cx="176.7" cy="387.6" r="1.5"/><circle cx="177.3" cy="374.5" r="1.5"/><circle cx="177.8" cy="388.4" r="1.5"/><circle cx="177.9" cy="397.8" r="1.5"/><circle cx="178.0" cy="376.5" r="1.5"/><circle cx="178.2" cy="394.0" r="1.5"/><circle cx="178.4" cy="382.8" r="1.5"/><circle cx="178.7" cy="383.2" r="1.5"/><circle cx="178.7" cy="383.8" r="1.5"/><circle cx="178.9" cy="399.4" r="1.5"/><circle cx="179.0" cy="370.5" r="1.5"/><circle cx="179.1" cy="380.4" r="1.5"/><circle cx="179.2" cy="393.9" r="1.5"/><circle cx="179.3" cy="369.6" r="1.5"/><circle cx="179.5" cy="365.1" r="1.5"/><circle cx="179.6" cy="393.1" r="1.5"/><circle cx="180.0" cy="386.3" r="1.5"/><circle cx="180.7" cy="385.0" r="1.5"/><circle cx="182.1" cy="390.1" r="1.5"/><circle cx="182.2" cy="375.6" r="1.5"/><circle cx="182.3" cy="426.0" r="1.5"/><circle cx="182.4" cy="375.3" r="1.5"/><circle cx="182.7" cy="382.3" r="1.5"/><circle cx="184.3" cy="368.7" r="1.5"/><circle cx="184.4" cy="381.7" r="1.5"/><circle cx="184.5" cy="406.9" r="1.5"/><circle cx="184.5" cy="387.3" r="1.5"/><circle cx="184.6" cy="394.8" r="1.5"/><circle cx="184.6" cy="380.7" r="1.5"/><circle cx="184.7" cy="410.6" r="1.5"/><circle cx="184.7" cy="389.1" r="1.5"/><circle cx="184.7" cy="370.7" r="1.5"/><circle cx="184.8" cy="396.9" r="1.5"/><circle cx="185.3" cy="381.9" r="1.5"/><circle cx="186.4" cy="394.0" r="1.5"/><circle cx="186.7" cy="387.7" r="1.5"/><circle cx="186.7" cy="389.3" r="1.5"/><circle cx="186.8" cy="387.6" r="1.5"/><circle cx="187.3" cy="373.8" r="1.5"/><circle cx="188.1" cy="365.6" r="1.5"/><circle cx="188.2" cy="397.8" r="1.5"/><circle cx="188.2" cy="383.3" r="1.5"/><circle cx="188.2" cy="388.8" r="1.5"/><circle cx="188.3" cy="379.0" r="1.5"/><circle cx="188.3" cy="358.7" r="1.5"/><circle cx="188.4" cy="368.3" r="1.5"/><circle cx="188.5" cy="403.1" r="1.5"/><circle cx="188.5" cy="374.8" r="1.5"/><circle cx="189.1" cy="380.3" r="1.5"/><circle cx="189.3" cy="366.3" r="1.5"/><circle cx="189.4" cy="378.5" r="1.5"/><circle cx="189.4" cy="380.5" r="1.5"/><circle cx="189.7" cy="382.6" r="1.5"/><circle cx="190.2" cy="384.8" r="1.5"/><circle cx="190.3" cy="377.6" r="1.5"/><circle cx="191.3" cy="378.7" r="1.5"/><circle cx="191.8" cy="386.2" r="1.5"/><circle cx="191.8" cy="390.6" r="1.5"/><circle cx="192.1" cy="384.6" r="1.5"/><circle cx="192.3" cy="409.2" r="1.5"/><circle cx="192.7" cy="389.4" r="1.5"/><circle cx="193.1" cy="389.0" r="1.5"/><circle cx="193.3" cy="378.5" r="1.5"/><circle cx="193.5" cy="400.4" r="1.5"/><circle cx="193.8" cy="373.8" r="1.5"/><circle cx="193.8" cy="366.1" r="1.5"/><circle cx="194.0" cy="374.5" r="1.5"/><circle cx="194.4" cy="395.4" r="1.5"/><circle cx="194.5" cy="372.6" r="1.5"/><circle cx="195.3" cy="404.6" r="1.5"/><circle cx="196.0" cy="387.8" r="1.5"/><circle cx="196.2" cy="368.5" r="1.5"/><circle cx="196.2" cy="385.2" r="1.5"/><circle cx="196.5" cy="411.5" r="1.5"/><circle cx="196.6" cy="377.2" r="1.5"/><circle cx="197.0" cy="371.5" r="1.5"/><circle cx="197.2" cy="395.3" r="1.5"/><circle cx="197.2" cy="405.6" r="1.5"/><circle cx="197.6" cy="402.0" r="1.5"/><circle cx="197.8" cy="384.6" r="1.5"/><circle cx="198.0" cy="391.4" r="1.5"/><circle cx="198.2" cy="393.3" r="1.5"/><circle cx="198.2" cy="404.3" r="1.5"/><circle cx="198.8" cy="417.2" r="1.5"/><circle cx="199.0" cy="388.0" r="1.5"/><circle cx="199.6" cy="406.5" r="1.5"/><circle cx="200.0" cy="385.3" r="1.5"/><circle cx="200.1" cy="397.5" r="1.5"/><circle cx="200.4" cy="377.8" r="1.5"/><circle cx="200.5" cy="380.0" r="1.5"/><circle cx="200.5" cy="395.4" r="1.5"/><circle cx="201.9" cy="378.1" r="1.5"/><circle cx="202.8" cy="401.1" r="1.5"/><circle cx="203.3" cy="382.3" r="1.5"/><circle cx="203.5" cy="390.4" r="1.5"/><circle cx="203.8" cy="388.3" r="1.5"/><circle cx="203.8" cy="385.0" r="1.5"/><circle cx="204.3" cy="390.9" r="1.5"/><circle cx="204.5" cy="403.2" r="1.5"/><circle cx="204.7" cy="374.1" r="1.5"/><circle cx="205.2" cy="373.5" r="1.5"/><circle cx="205.7" cy="392.7" r="1.5"/><circle cx="206.3" cy="386.4" r="1.5"/><circle cx="206.8" cy="376.7" r="1.5"/><circle cx="207.1" cy="392.2" r="1.5"/><circle cx="207.4" cy="377.1" r="1.5"/><circle cx="207.5" cy="387.5" r="1.5"/><circle cx="207.5" cy="404.7" r="1.5"/><circle cx="207.7" cy="362.4" r="1.5"/><circle cx="207.8" cy="391.9" r="1.5"/><circle cx="207.8" cy="394.5" r="1.5"/><circle cx="208.1" cy="376.4" r="1.5"/><circle cx="208.1" cy="395.7" r="1.5"/><circle cx="208.9" cy="393.8" r="1.5"/><circle cx="209.1" cy="384.8" r="1.5"/><circle cx="209.1" cy="405.1" r="1.5"/><circle cx="209.6" cy="372.6" r="1.5"/><circle cx="209.7" cy="398.0" r="1.5"/><circle cx="209.7" cy="386.6" r="1.5"/><circle cx="210.1" cy="376.1" r="1.5"/><circle cx="210.3" cy="387.6" r="1.5"/><circle cx="210.5" cy="385.5" r="1.5"/><circle cx="211.2" cy="401.0" r="1.5"/><circle cx="211.5" cy="371.1" r="1.5"/><circle cx="211.6" cy="388.0" r="1.5"/><circle cx="212.4" cy="385.0" r="1.5"/><circle cx="212.4" cy="411.4" r="1.5"/><circle cx="212.6" cy="376.5" r="1.5"/><circle cx="213.1" cy="405.1" r="1.5"/><circle cx="213.3" cy="368.5" r="1.5"/><circle cx="214.7" cy="395.1" r="1.5"/><circle cx="215.0" cy="388.7" r="1.5"/><circle cx="215.0" cy="395.3" r="1.5"/><circle cx="215.2" cy="381.1" r="1.5"/><circle cx="215.4" cy="364.8" r="1.5"/><circle cx="215.7" cy="369.8" r="1.5"/><circle cx="215.7" cy="407.0" r="1.5"/><circle cx="216.3" cy="392.3" r="1.5"/><circle cx="216.6" cy="378.1" r="1.5"/><circle cx="216.8" cy="400.9" r="1.5"/><circle cx="217.2" cy="379.2" r="1.5"/><circle cx="217.4" cy="379.1" r="1.5"/><circle cx="217.9" cy="372.6" r="1.5"/><circle cx="217.9" cy="403.6" r="1.5"/><circle cx="218.1" cy="413.7" r="1.5"/><circle cx="218.9" cy="375.1" r="1.5"/><circle cx="218.9" cy="391.3" r="1.5"/><circle cx="219.1" cy="400.2" r="1.5"/><circle cx="219.4" cy="414.7" r="1.5"/><circle cx="219.5" cy="356.0" r="1.5"/><circle cx="219.7" cy="388.8" r="1.5"/><circle cx="220.0" cy="395.2" r="1.5"/><circle cx="220.2" cy="367.6" r="1.5"/><circle cx="220.3" cy="392.1" r="1.5"/><circle cx="220.3" cy="389.4" r="1.5"/><circle cx="220.5" cy="396.2" r="1.5"/><circle cx="220.7" cy="379.3" r="1.5"/><circle cx="220.8" cy="392.3" r="1.5"/><circle cx="220.8" cy="379.0" r="1.5"/><circle cx="222.1" cy="394.7" r="1.5"/><circle cx="222.3" cy="388.9" r="1.5"/><circle cx="222.6" cy="381.9" r="1.5"/><circle cx="222.7" cy="368.4" r="1.5"/><circle cx="222.7" cy="408.2" r="1.5"/><circle cx="223.0" cy="401.2" r="1.5"/><circle cx="223.0" cy="398.2" r="1.5"/><circle cx="223.4" cy="378.1" r="1.5"/><circle cx="223.7" cy="382.1" r="1.5"/><circle cx="223.9" cy="408.4" r="1.5"/><circle cx="223.9" cy="396.3" r="1.5"/><circle cx="224.0" cy="375.6" r="1.5"/><circle cx="224.7" cy="387.1" r="1.5"/><circle cx="224.7" cy="388.4" r="1.5"/><circle cx="224.7" cy="383.9" r="1.5"/><circle cx="225.2" cy="374.1" r="1.5"/><circle cx="225.3" cy="402.7" r="1.5"/><circle cx="226.1" cy="393.9" r="1.5"/><circle cx="226.7" cy="384.1" r="1.5"/><circle cx="226.8" cy="366.2" r="1.5"/><circle cx="226.9" cy="379.2" r="1.5"/><circle cx="226.9" cy="386.7" r="1.5"/><circle cx="227.2" cy="398.2" r="1.5"/><circle cx="227.2" cy="382.1" r="1.5"/><circle cx="227.4" cy="401.4" r="1.5"/><circle cx="227.7" cy="388.9" r="1.5"/><circle cx="227.8" cy="377.5" r="1.5"/><circle cx="228.2" cy="350.9" r="1.5"/><circle cx="228.4" cy="372.0" r="1.5"/><circle cx="228.8" cy="367.9" r="1.5"/><circle cx="229.0" cy="385.3" r="1.5"/><circle cx="229.0" cy="391.6" r="1.5"/><circle cx="229.0" cy="405.4" r="1.5"/><circle cx="229.1" cy="387.1" r="1.5"/><circle cx="229.3" cy="372.2" r="1.5"/><circle cx="229.4" cy="417.8" r="1.5"/><circle cx="229.5" cy="391.3" r="1.5"/><circle cx="229.9" cy="383.6" r="1.5"/><circle cx="230.2" cy="383.3" r="1.5"/><circle cx="230.5" cy="368.9" r="1.5"/><circle cx="230.6" cy="394.8" r="1.5"/><circle cx="230.7" cy="391.2" r="1.5"/><circle cx="231.5" cy="406.2" r="1.5"/><circle cx="231.8" cy="399.6" r="1.5"/><circle cx="232.1" cy="396.3" r="1.5"/><circle cx="232.5" cy="401.1" r="1.5"/><circle cx="232.6" cy="381.0" r="1.5"/><circle cx="232.6" cy="378.8" r="1.5"/><circle cx="232.8" cy="383.3" r="1.5"/><circle cx="233.1" cy="366.9" r="1.5"/><circle cx="233.1" cy="381.1" r="1.5"/><circle cx="233.2" cy="378.6" r="1.5"/><circle cx="233.4" cy="391.0" r="1.5"/><circle cx="233.5" cy="381.6" r="1.5"/><circle cx="233.8" cy="356.1" r="1.5"/><circle cx="233.9" cy="381.1" r="1.5"/><circle cx="234.0" cy="399.0" r="1.5"/><circle cx="234.8" cy="354.0" r="1.5"/><circle cx="234.9" cy="368.0" r="1.5"/><circle cx="235.1" cy="377.4" r="1.5"/><circle cx="235.1" cy="359.9" r="1.5"/><circle cx="235.2" cy="369.8" r="1.5"/><circle cx="235.3" cy="377.3" r="1.5"/><circle cx="236.1" cy="357.1" r="1.5"/><circle cx="236.2" cy="377.7" r="1.5"/><circle cx="236.5" cy="378.3" r="1.5"/><circle cx="236.6" cy="355.9" r="1.5"/><circle cx="236.7" cy="372.7" r="1.5"/><circle cx="236.9" cy="385.8" r="1.5"/><circle cx="237.1" cy="368.9" r="1.5"/><circle cx="237.4" cy="375.8" r="1.5"/><circle cx="237.4" cy="378.4" r="1.5"/><circle cx="237.7" cy="366.1" r="1.5"/><circle cx="238.1" cy="380.9" r="1.5"/><circle cx="238.5" cy="371.8" r="1.5"/><circle cx="238.6" cy="353.6" r="1.5"/><circle cx="238.8" cy="372.7" r="1.5"/><circle cx="239.0" cy="376.4" r="1.5"/><circle cx="239.5" cy="374.4" r="1.5"/><circle cx="239.6" cy="355.4" r="1.5"/><circle cx="240.3" cy="368.1" r="1.5"/><circle cx="240.3" cy="380.0" r="1.5"/><circle cx="240.5" cy="364.7" r="1.5"/><circle cx="241.1" cy="375.4" r="1.5"/><circle cx="241.3" cy="376.4" r="1.5"/><circle cx="241.4" cy="358.6" r="1.5"/><circle cx="241.7" cy="366.8" r="1.5"/><circle cx="241.8" cy="354.3" r="1.5"/><circle cx="242.3" cy="370.8" r="1.5"/><circle cx="242.3" cy="355.7" r="1.5"/><circle cx="242.8" cy="349.0" r="1.5"/><circle cx="243.3" cy="355.2" r="1.5"/><circle cx="243.4" cy="354.5" r="1.5"/><circle cx="243.8" cy="359.9" r="1.5"/><circle cx="244.3" cy="360.6" r="1.5"/><circle cx="244.4" cy="339.3" r="1.5"/><circle cx="244.7" cy="345.8" r="1.5"/><circle cx="244.8" cy="358.8" r="1.5"/><circle cx="244.9" cy="360.4" r="1.5"/><circle cx="245.1" cy="355.1" r="1.5"/><circle cx="245.3" cy="388.1" r="1.5"/><circle cx="245.4" cy="368.4" r="1.5"/><circle cx="245.5" cy="352.9" r="1.5"/><circle cx="245.6" cy="363.3" r="1.5"/><circle cx="245.6" cy="371.2" r="1.5"/><circle cx="246.3" cy="358.5" r="1.5"/><circle cx="246.3" cy="331.1" r="1.5"/><circle cx="247.0" cy="355.0" r="1.5"/><circle cx="247.3" cy="354.3" r="1.5"/><circle cx="247.6" cy="381.4" r="1.5"/><circle cx="248.0" cy="329.7" r="1.5"/><circle cx="248.5" cy="373.7" r="1.5"/><circle cx="248.9" cy="351.5" r="1.5"/><circle cx="249.0" cy="365.6" r="1.5"/><circle cx="249.7" cy="349.6" r="1.5"/><circle cx="249.9" cy="355.7" r="1.5"/><circle cx="250.2" cy="368.1" r="1.5"/><circle cx="250.4" cy="354.5" r="1.5"/><circle cx="251.0" cy="367.0" r="1.5"/><circle cx="251.1" cy="352.3" r="1.5"/><circle cx="251.5" cy="347.9" r="1.5"/><circle cx="252.2" cy="350.4" r="1.5"/><circle cx="253.1" cy="347.0" r="1.5"/><circle cx="253.3" cy="352.0" r="1.5"/><circle cx="253.5" cy="371.3" r="1.5"/><circle cx="253.7" cy="338.5" r="1.5"/><circle cx="255.7" cy="332.6" r="1.5"/><circle cx="255.7" cy="354.0" r="1.5"/><circle cx="255.8" cy="376.1" r="1.5"/><circle cx="255.9" cy="367.9" r="1.5"/><circle cx="256.0" cy="371.5" r="1.5"/><circle cx="256.6" cy="370.7" r="1.5"/><circle cx="256.6" cy="345.0" r="1.5"/><circle cx="256.7" cy="356.0" r="1.5"/><circle cx="256.7" cy="319.9" r="1.5"/><circle cx="256.7" cy="346.6" r="1.5"/><circle cx="257.7" cy="362.7" r="1.5"/><circle cx="257.9" cy="334.6" r="1.5"/><circle cx="257.9" cy="328.1" r="1.5"/><circle cx="258.2" cy="338.0" r="1.5"/><circle cx="258.3" cy="357.7" r="1.5"/><circle cx="258.3" cy="370.1" r="1.5"/><circle cx="258.5" cy="388.5" r="1.5"/><circle cx="258.5" cy="373.5" r="1.5"/><circle cx="258.8" cy="335.0" r="1.5"/><circle cx="258.8" cy="324.6" r="1.5"/><circle cx="259.0" cy="356.6" r="1.5"/><circle cx="259.2" cy="368.3" r="1.5"/><circle cx="259.3" cy="333.5" r="1.5"/><circle cx="259.4" cy="347.8" r="1.5"/><circle cx="259.5" cy="348.7" r="1.5"/><circle cx="259.7" cy="354.9" r="1.5"/><circle cx="259.7" cy="352.1" r="1.5"/><circle cx="260.2" cy="360.9" r="1.5"/><circle cx="260.5" cy="367.9" r="1.5"/><circle cx="260.6" cy="355.1" r="1.5"/><circle cx="260.7" cy="363.8" r="1.5"/><circle cx="260.8" cy="379.9" r="1.5"/><circle cx="261.0" cy="340.7" r="1.5"/><circle cx="261.3" cy="340.2" r="1.5"/><circle cx="261.3" cy="360.5" r="1.5"/><circle cx="261.7" cy="377.7" r="1.5"/><circle cx="261.9" cy="355.8" r="1.5"/><circle cx="262.1" cy="367.7" r="1.5"/><circle cx="262.1" cy="349.5" r="1.5"/><circle cx="262.2" cy="365.4" r="1.5"/><circle cx="262.5" cy="345.3" r="1.5"/><circle cx="262.6" cy="362.1" r="1.5"/><circle cx="263.4" cy="358.1" r="1.5"/><circle cx="263.6" cy="358.0" r="1.5"/><circle cx="264.0" cy="370.6" r="1.5"/><circle cx="264.0" cy="366.6" r="1.5"/><circle cx="264.4" cy="344.8" r="1.5"/><circle cx="264.9" cy="364.0" r="1.5"/><circle cx="265.2" cy="330.5" r="1.5"/><circle cx="265.4" cy="365.5" r="1.5"/><circle cx="266.5" cy="388.7" r="1.5"/><circle cx="266.9" cy="359.9" r="1.5"/><circle cx="266.9" cy="359.7" r="1.5"/><circle cx="267.0" cy="354.0" r="1.5"/><circle cx="267.5" cy="364.1" r="1.5"/><circle cx="267.5" cy="347.4" r="1.5"/><circle cx="268.2" cy="362.2" r="1.5"/><circle cx="268.3" cy="350.0" r="1.5"/><circle cx="268.8" cy="348.2" r="1.5"/><circle cx="269.1" cy="355.4" r="1.5"/><circle cx="269.3" cy="353.1" r="1.5"/><circle cx="269.8" cy="331.4" r="1.5"/><circle cx="270.0" cy="381.0" r="1.5"/><circle cx="270.2" cy="355.9" r="1.5"/><circle cx="270.5" cy="332.1" r="1.5"/><circle cx="271.1" cy="368.3" r="1.5"/><circle cx="271.2" cy="354.0" r="1.5"/><circle cx="271.6" cy="357.0" r="1.5"/><circle cx="271.6" cy="363.6" r="1.5"/><circle cx="271.6" cy="342.7" r="1.5"/><circle cx="272.9" cy="316.2" r="1.5"/><circle cx="272.9" cy="353.2" r="1.5"/><circle cx="273.0" cy="357.6" r="1.5"/><circle cx="273.0" cy="367.5" r="1.5"/><circle cx="273.3" cy="344.6" r="1.5"/><circle cx="273.8" cy="351.1" r="1.5"/><circle cx="273.9" cy="359.7" r="1.5"/><circle cx="274.0" cy="350.4" r="1.5"/><circle cx="274.5" cy="351.3" r="1.5"/><circle cx="274.9" cy="357.9" r="1.5"/><circle cx="275.1" cy="341.7" r="1.5"/><circle cx="275.3" cy="375.2" r="1.5"/><circle cx="275.7" cy="342.7" r="1.5"/><circle cx="276.2" cy="355.1" r="1.5"/><circle cx="276.7" cy="350.4" r="1.5"/><circle cx="276.7" cy="345.5" r="1.5"/><circle cx="277.0" cy="361.7" r="1.5"/><circle cx="277.3" cy="367.9" r="1.5"/><circle cx="277.5" cy="373.6" r="1.5"/><circle cx="277.5" cy="362.3" r="1.5"/><circle cx="277.6" cy="348.9" r="1.5"/><circle cx="277.9" cy="365.9" r="1.5"/><circle cx="278.4" cy="335.9" r="1.5"/><circle cx="278.8" cy="355.2" r="1.5"/><circle cx="278.8" cy="361.4" r="1.5"/><circle cx="278.8" cy="361.9" r="1.5"/><circle cx="278.9" cy="339.6" r="1.5"/><circle cx="279.0" cy="335.1" r="1.5"/><circle cx="279.6" cy="376.1" r="1.5"/><circle cx="279.8" cy="347.8" r="1.5"/><circle cx="279.8" cy="333.0" r="1.5"/><circle cx="280.0" cy="338.3" r="1.5"/><circle cx="280.4" cy="354.5" r="1.5"/><circle cx="280.7" cy="369.6" r="1.5"/><circle cx="280.7" cy="354.2" r="1.5"/><circle cx="281.0" cy="369.8" r="1.5"/><circle cx="281.7" cy="357.1" r="1.5"/><circle cx="281.9" cy="360.2" r="1.5"/><circle cx="282.0" cy="366.9" r="1.5"/><circle cx="282.4" cy="349.2" r="1.5"/><circle cx="282.4" cy="357.9" r="1.5"/><circle cx="282.7" cy="348.9" r="1.5"/><circle cx="282.8" cy="345.7" r="1.5"/><circle cx="283.1" cy="362.5" r="1.5"/><circle cx="283.2" cy="343.2" r="1.5"/><circle cx="283.3" cy="354.9" r="1.5"/><circle cx="283.4" cy="343.6" r="1.5"/><circle cx="283.4" cy="352.7" r="1.5"/><circle cx="284.0" cy="347.1" r="1.5"/><circle cx="284.3" cy="368.3" r="1.5"/><circle cx="284.5" cy="355.3" r="1.5"/><circle cx="284.9" cy="355.5" r="1.5"/><circle cx="285.6" cy="376.3" r="1.5"/><circle cx="285.7" cy="317.2" r="1.5"/><circle cx="285.8" cy="340.4" r="1.5"/><circle cx="285.9" cy="319.2" r="1.5"/><circle cx="286.1" cy="354.9" r="1.5"/><circle cx="286.8" cy="361.0" r="1.5"/><circle cx="288.1" cy="364.4" r="1.5"/><circle cx="288.3" cy="359.7" r="1.5"/><circle cx="288.8" cy="345.1" r="1.5"/><circle cx="289.1" cy="379.4" r="1.5"/><circle cx="289.4" cy="360.7" r="1.5"/><circle cx="289.7" cy="353.3" r="1.5"/><circle cx="290.0" cy="341.9" r="1.5"/><circle cx="290.3" cy="361.8" r="1.5"/><circle cx="291.0" cy="349.5" r="1.5"/><circle cx="291.0" cy="350.0" r="1.5"/><circle cx="291.1" cy="358.5" r="1.5"/><circle cx="291.4" cy="358.5" r="1.5"/><circle cx="291.6" cy="344.9" r="1.5"/><circle cx="292.1" cy="371.5" r="1.5"/><circle cx="292.1" cy="342.2" r="1.5"/><circle cx="292.8" cy="340.3" r="1.5"/><circle cx="293.6" cy="358.4" r="1.5"/><circle cx="294.2" cy="355.7" r="1.5"/><circle cx="294.4" cy="354.9" r="1.5"/><circle cx="294.8" cy="348.3" r="1.5"/><circle cx="294.8" cy="354.2" r="1.5"/><circle cx="294.8" cy="346.3" r="1.5"/><circle cx="295.0" cy="332.1" r="1.5"/><circle cx="295.1" cy="363.1" r="1.5"/><circle cx="295.1" cy="340.3" r="1.5"/><circle cx="295.2" cy="350.5" r="1.5"/><circle cx="295.3" cy="362.9" r="1.5"/><circle cx="295.8" cy="353.4" r="1.5"/><circle cx="295.9" cy="388.7" r="1.5"/><circle cx="296.0" cy="334.8" r="1.5"/><circle cx="296.2" cy="343.2" r="1.5"/><circle cx="296.3" cy="354.0" r="1.5"/><circle cx="296.6" cy="370.5" r="1.5"/><circle cx="296.7" cy="349.7" r="1.5"/><circle cx="296.8" cy="334.3" r="1.5"/><circle cx="297.0" cy="367.8" r="1.5"/><circle cx="297.1" cy="340.9" r="1.5"/><circle cx="297.1" cy="350.3" r="1.5"/><circle cx="297.6" cy="364.4" r="1.5"/><circle cx="297.8" cy="344.2" r="1.5"/><circle cx="297.9" cy="347.1" r="1.5"/><circle cx="298.0" cy="359.3" r="1.5"/><circle cx="298.3" cy="350.3" r="1.5"/><circle cx="298.5" cy="356.7" r="1.5"/><circle cx="299.0" cy="340.7" r="1.5"/><circle cx="299.4" cy="351.5" r="1.5"/><circle cx="299.6" cy="338.9" r="1.5"/><circle cx="299.6" cy="332.8" r="1.5"/><circle cx="300.3" cy="375.9" r="1.5"/><circle cx="300.7" cy="359.1" r="1.5"/><circle cx="300.7" cy="365.1" r="1.5"/><circle cx="301.5" cy="340.6" r="1.5"/><circle cx="301.7" cy="352.9" r="1.5"/><circle cx="301.9" cy="350.6" r="1.5"/><circle cx="302.7" cy="334.7" r="1.5"/><circle cx="302.8" cy="360.2" r="1.5"/><circle cx="303.7" cy="343.4" r="1.5"/><circle cx="304.6" cy="349.9" r="1.5"/><circle cx="304.7" cy="332.8" r="1.5"/><circle cx="305.4" cy="365.2" r="1.5"/><circle cx="305.4" cy="362.1" r="1.5"/><circle cx="305.5" cy="357.3" r="1.5"/><circle cx="307.1" cy="339.9" r="1.5"/><circle cx="307.1" cy="344.7" r="1.5"/><circle cx="307.2" cy="367.6" r="1.5"/><circle cx="307.9" cy="347.8" r="1.5"/><circle cx="308.3" cy="354.8" r="1.5"/><circle cx="308.3" cy="353.1" r="1.5"/><circle cx="308.9" cy="336.7" r="1.5"/><circle cx="308.9" cy="371.0" r="1.5"/><circle cx="309.2" cy="325.4" r="1.5"/><circle cx="309.4" cy="354.1" r="1.5"/><circle cx="309.5" cy="350.1" r="1.5"/><circle cx="309.6" cy="330.2" r="1.5"/><circle cx="309.6" cy="355.5" r="1.5"/><circle cx="310.2" cy="358.0" r="1.5"/><circle cx="310.3" cy="351.9" r="1.5"/><circle cx="310.7" cy="340.5" r="1.5"/><circle cx="310.9" cy="357.1" r="1.5"/><circle cx="310.9" cy="365.7" r="1.5"/><circle cx="311.0" cy="354.1" r="1.5"/><circle cx="311.1" cy="373.6" r="1.5"/><circle cx="311.3" cy="362.4" r="1.5"/><circle cx="311.5" cy="361.2" r="1.5"/><circle cx="313.4" cy="369.3" r="1.5"/><circle cx="314.1" cy="342.6" r="1.5"/><circle cx="314.6" cy="344.5" r="1.5"/><circle cx="314.7" cy="358.0" r="1.5"/><circle cx="315.1" cy="358.4" r="1.5"/><circle cx="315.2" cy="371.3" r="1.5"/><circle cx="315.3" cy="366.6" r="1.5"/><circle cx="315.3" cy="354.0" r="1.5"/><circle cx="315.6" cy="354.8" r="1.5"/><circle cx="315.7" cy="348.4" r="1.5"/><circle cx="315.9" cy="347.4" r="1.5"/><circle cx="316.0" cy="346.4" r="1.5"/><circle cx="316.5" cy="364.4" r="1.5"/><circle cx="316.6" cy="346.6" r="1.5"/><circle cx="316.6" cy="348.1" r="1.5"/><circle cx="316.7" cy="354.9" r="1.5"/><circle cx="316.8" cy="346.3" r="1.5"/><circle cx="317.6" cy="350.5" r="1.5"/><circle cx="317.7" cy="325.2" r="1.5"/><circle cx="317.8" cy="358.6" r="1.5"/><circle cx="318.0" cy="349.8" r="1.5"/><circle cx="318.2" cy="356.5" r="1.5"/><circle cx="318.4" cy="359.0" r="1.5"/><circle cx="318.5" cy="330.2" r="1.5"/><circle cx="318.5" cy="385.6" r="1.5"/><circle cx="318.8" cy="356.7" r="1.5"/><circle cx="319.5" cy="357.6" r="1.5"/><circle cx="319.6" cy="332.2" r="1.5"/><circle cx="319.6" cy="363.7" r="1.5"/><circle cx="319.9" cy="361.3" r="1.5"/><circle cx="320.2" cy="351.6" r="1.5"/><circle cx="320.4" cy="359.7" r="1.5"/><circle cx="320.6" cy="373.4" r="1.5"/><circle cx="320.9" cy="352.7" r="1.5"/><circle cx="321.8" cy="344.8" r="1.5"/><circle cx="321.8" cy="373.9" r="1.5"/><circle cx="322.1" cy="359.9" r="1.5"/><circle cx="322.3" cy="354.0" r="1.5"/><circle cx="322.7" cy="385.9" r="1.5"/><circle cx="322.8" cy="358.1" r="1.5"/><circle cx="324.0" cy="352.8" r="1.5"/><circle cx="324.2" cy="358.4" r="1.5"/><circle cx="324.3" cy="349.6" r="1.5"/><circle cx="324.4" cy="357.6" r="1.5"/><circle cx="324.5" cy="356.6" r="1.5"/><circle cx="325.0" cy="345.7" r="1.5"/><circle cx="325.3" cy="350.6" r="1.5"/><circle cx="325.6" cy="357.8" r="1.5"/><circle cx="325.7" cy="358.6" r="1.5"/><circle cx="326.0" cy="361.0" r="1.5"/><circle cx="326.1" cy="363.5" r="1.5"/><circle cx="326.1" cy="356.5" r="1.5"/><circle cx="326.3" cy="359.9" r="1.5"/><circle cx="326.3" cy="348.2" r="1.5"/><circle cx="326.4" cy="349.7" r="1.5"/><circle cx="327.2" cy="366.1" r="1.5"/><circle cx="327.3" cy="327.0" r="1.5"/><circle cx="327.5" cy="357.6" r="1.5"/><circle cx="327.8" cy="350.7" r="1.5"/><circle cx="327.8" cy="328.9" r="1.5"/><circle cx="328.1" cy="372.7" r="1.5"/><circle cx="328.4" cy="330.4" r="1.5"/><circle cx="328.4" cy="357.9" r="1.5"/><circle cx="328.5" cy="374.3" r="1.5"/><circle cx="328.7" cy="372.6" r="1.5"/><circle cx="329.1" cy="341.7" r="1.5"/><circle cx="329.2" cy="336.7" r="1.5"/><circle cx="329.4" cy="334.9" r="1.5"/><circle cx="329.9" cy="363.2" r="1.5"/><circle cx="329.9" cy="348.8" r="1.5"/><circle cx="330.2" cy="354.1" r="1.5"/><circle cx="330.3" cy="357.4" r="1.5"/><circle cx="330.6" cy="359.6" r="1.5"/><circle cx="330.9" cy="361.4" r="1.5"/><circle cx="330.9" cy="356.0" r="1.5"/><circle cx="330.9" cy="333.6" r="1.5"/><circle cx="331.7" cy="373.9" r="1.5"/><circle cx="332.2" cy="319.6" r="1.5"/><circle cx="333.7" cy="372.3" r="1.5"/><circle cx="333.8" cy="348.4" r="1.5"/><circle cx="334.0" cy="353.6" r="1.5"/><circle cx="334.2" cy="349.4" r="1.5"/><circle cx="334.5" cy="351.4" r="1.5"/><circle cx="334.5" cy="355.9" r="1.5"/><circle cx="334.9" cy="352.6" r="1.5"/><circle cx="335.7" cy="342.0" r="1.5"/><circle cx="335.9" cy="367.3" r="1.5"/><circle cx="336.4" cy="348.7" r="1.5"/><circle cx="336.5" cy="373.7" r="1.5"/><circle cx="336.6" cy="354.3" r="1.5"/><circle cx="336.6" cy="347.1" r="1.5"/><circle cx="337.0" cy="361.9" r="1.5"/><circle cx="337.1" cy="367.8" r="1.5"/><circle cx="337.3" cy="344.3" r="1.5"/><circle cx="338.0" cy="352.6" r="1.5"/><circle cx="338.1" cy="374.9" r="1.5"/><circle cx="338.1" cy="343.3" r="1.5"/><circle cx="338.1" cy="345.3" r="1.5"/><circle cx="338.2" cy="358.5" r="1.5"/><circle cx="338.4" cy="340.5" r="1.5"/><circle cx="338.6" cy="324.3" r="1.5"/><circle cx="338.9" cy="334.7" r="1.5"/><circle cx="339.1" cy="361.2" r="1.5"/><circle cx="339.1" cy="364.9" r="1.5"/><circle cx="339.3" cy="364.1" r="1.5"/><circle cx="339.7" cy="361.5" r="1.5"/><circle cx="339.7" cy="340.4" r="1.5"/><circle cx="340.0" cy="365.1" r="1.5"/><circle cx="340.3" cy="371.1" r="1.5"/><circle cx="340.7" cy="346.7" r="1.5"/><circle cx="342.0" cy="366.9" r="1.5"/><circle cx="342.2" cy="349.7" r="1.5"/><circle cx="342.4" cy="356.8" r="1.5"/><circle cx="343.0" cy="358.6" r="1.5"/><circle cx="343.1" cy="334.4" r="1.5"/><circle cx="343.1" cy="372.7" r="1.5"/><circle cx="343.6" cy="342.1" r="1.5"/><circle cx="344.3" cy="351.4" r="1.5"/><circle cx="344.4" cy="346.2" r="1.5"/><circle cx="344.9" cy="358.2" r="1.5"/><circle cx="345.2" cy="357.6" r="1.5"/><circle cx="346.2" cy="351.4" r="1.5"/><circle cx="346.2" cy="369.5" r="1.5"/><circle cx="346.2" cy="354.7" r="1.5"/><circle cx="346.4" cy="345.8" r="1.5"/><circle cx="346.4" cy="313.5" r="1.5"/><circle cx="347.1" cy="347.7" r="1.5"/><circle cx="347.1" cy="347.6" r="1.5"/><circle cx="347.5" cy="340.4" r="1.5"/><circle cx="348.1" cy="341.0" r="1.5"/><circle cx="348.2" cy="360.1" r="1.5"/><circle cx="348.5" cy="366.1" r="1.5"/><circle cx="349.1" cy="377.8" r="1.5"/><circle cx="349.4" cy="368.2" r="1.5"/><circle cx="349.4" cy="344.2" r="1.5"/><circle cx="349.7" cy="357.0" r="1.5"/><circle cx="349.8" cy="336.0" r="1.5"/><circle cx="350.0" cy="363.3" r="1.5"/><circle cx="350.1" cy="358.6" r="1.5"/><circle cx="350.1" cy="346.0" r="1.5"/><circle cx="350.2" cy="352.7" r="1.5"/><circle cx="350.2" cy="350.8" r="1.5"/><circle cx="351.8" cy="347.2" r="1.5"/><circle cx="352.1" cy="372.8" r="1.5"/><circle cx="352.8" cy="374.1" r="1.5"/><circle cx="352.8" cy="367.0" r="1.5"/><circle cx="353.2" cy="370.2" r="1.5"/><circle cx="353.4" cy="358.6" r="1.5"/><circle cx="354.5" cy="351.9" r="1.5"/><circle cx="354.7" cy="385.0" r="1.5"/><circle cx="354.9" cy="351.7" r="1.5"/><circle cx="355.5" cy="361.6" r="1.5"/><circle cx="355.6" cy="354.9" r="1.5"/></g>
<polyline points="52.0,354.30 52.5,354.30 53.0,354.30 53.5,354.30 54.0,354.30 54.5,354.30 55.0,354.30 55.5,354.30 56.0,354.30 56.5,354.30 57.0,354.30 57.5,354.30 58.0,354.30 58.5,354.30 59.0,354.30 59.5,354.30 60.0,354.30 60.5,354.30 61.0,354.30 61.5,354.30 62.0,354.30 62.5,354.30 63.0,354.30 63.5,354.30 64.0,354.30 64.5,354.30 65.0,354.30 65.5,354.30 66.0,354.30 66.5,354.30 67.0,354.30 67.5,354.30 68.0,354.30 68.5,354.30 69.0,354.30 69.5,354.30 70.0,354.30 70.5,354.30 71.0,354.30 71.5,354.30 72.0,354.30 72.5,354.30 73.0,354.30 73.5,354.30 74.0,354.30 74.5,354.30 75.0,354.30 75.5,354.30 76.0,354.30 76.5,354.30 77.0,354.30 77.5,354.30 78.0,354.30 78.5,354.30 79.0,354.30 79.5,354.30 80.0,354.30 80.5,354.30 81.0,354.30 81.5,354.30 82.0,354.30 82.5,354.30 83.0,354.30 83.5,354.30 84.0,354.30 84.5,354.30 85.0,354.30 85.5,354.30 86.0,354.30 86.5,354.30 87.0,354.30 87.5,354.30 88.0,354.30 88.5,354.30 89.0,354.30 89.5,354.30 90.0,354.30 90.5,354.30 91.0,354.30 91.5,354.30 92.0,354.30 92.5,354.30 93.0,354.30 93.5,354.30 94.0,354.30 94.5,354.30 95.0,354.30 95.5,354.30 96.0,354.30 96.5,354.30 97.0,354.30 97.5,354.30 98.0,354.30 98.5,354.30 99.0,354.30 99.5,354.30 100.0,354.30 100.5,354.30 101.0,354.30 101.5,354.30 102.0,354.30 102.5,354.30 103.0,354.30 103.5,354.30 104.0,354.30 104.5,354.30 105.0,354.30 105.5,354.30 106.0,354.30 106.5,354.30 107.0,354.30 107.5,354.30 108.0,354.30 108.5,354.30 109.0,354.30 109.5,354.30 110.0,354.30 110.5,354.30 111.0,354.30 111.5,354.30 112.0,354.30 112.5,354.30 113.0,354.30 113.5,354.30 114.0,354.30 114.5,354.30 115.0,354.30 115.5,354.30 116.0,354.30 116.5,354.30 117.0,354.30 117.5,354.30 118.0,354.30 118.5,354.30 119.0,354.30 119.5,354.30 120.0,354.30 120.5,354.30 121.0,354.30 121.5,354.30 122.0,354.30 122.5,354.30 123.0,354.30 123.5,354.30 124.0,354.30 124.5,354.30 125.0,354.30 125.5,354.30 126.0,354.30 126.5,354.30 127.0,354.30 127.5,354.30 128.0,354.30 128.5,354.30 129.0,354.30 129.5,354.30 130.0,354.30 130.5,354.30 131.0,354.30 131.5,354.30 132.0,354.30 132.5,354.30 133.0,354.30 133.5,354.30 134.0,354.30 134.5,354.30 135.0,354.30 135.5,354.30 136.0,354.30 136.5,354.30 137.0,354.30 137.5,354.30 138.0,354.30 138.5,354.30 139.0,354.30 139.5,354.30 140.0,354.30 140.5,354.30 141.0,354.30 141.5,354.30 142.0,354.30 142.5,354.30 143.0,354.30 143.5,354.30 144.0,354.30 144.5,354.30 145.0,354.30 145.5,354.30 146.0,354.30 146.5,354.30 147.0,354.30 147.5,354.30 148.0,354.30 148.5,354.30 149.0,354.30 149.5,354.30 150.0,354.30 150.5,354.30 151.0,354.30 151.5,354.30 152.0,354.30 152.5,354.30 153.0,354.30 153.5,354.30 154.0,354.30 154.5,354.30 155.0,354.30 155.5,354.30 156.0,354.30 156.5,354.30 157.0,354.30 157.5,354.30 158.0,354.30 158.5,354.30 159.0,354.30 159.5,354.30 160.0,354.30 160.5,354.47 161.0,354.92 161.5,355.61 162.0,356.45 162.5,357.38 163.0,358.34 163.5,359.29 164.0,360.43 164.5,361.74 165.0,363.15 165.5,364.57 166.0,365.94 166.5,367.23 167.0,368.51 167.5,369.79 168.0,371.07 168.5,372.32 169.0,373.57 169.5,374.78 170.0,375.98 170.5,377.22 171.0,378.47 171.5,379.72 172.0,380.91 172.5,382.01 173.0,382.99 173.5,383.80 174.0,384.49 174.5,385.14 175.0,385.73 175.5,386.27 176.0,386.76 176.5,387.19 177.0,387.57 177.5,387.89 178.0,388.18 178.5,388.45 179.0,388.70 179.5,388.93 180.0,389.14 180.5,389.34 181.0,389.52 181.5,389.70 182.0,389.87 182.5,390.03 183.0,390.20 183.5,390.36 184.0,390.52 184.5,390.67 185.0,390.82 185.5,390.97 186.0,391.11 186.5,391.25 187.0,391.38 187.5,391.50 188.0,391.62 188.5,391.74 189.0,391.85 189.5,391.95 190.0,392.04 190.5,392.13 191.0,392.21 191.5,392.29 192.0,392.35 192.5,392.42 193.0,392.49 193.5,392.56 194.0,392.62 194.5,392.68 195.0,392.75 195.5,392.81 196.0,392.86 196.5,392.92 197.0,392.97 197.5,393.01 198.0,393.05 198.5,393.09 199.0,393.12 199.5,393.15 200.0,393.17 200.5,393.19 201.0,393.20 201.5,393.20 202.0,393.20 202.5,393.19 203.0,393.18 203.5,393.16 204.0,393.14 204.5,393.12 205.0,393.09 205.5,393.06 206.0,393.03 206.5,392.99 207.0,392.96 207.5,392.92 208.0,392.88 208.5,392.84 209.0,392.79 209.5,392.75 210.0,392.71 210.5,392.66 211.0,392.62 211.5,392.57 212.0,392.53 212.5,392.48 213.0,392.43 213.5,392.37 214.0,392.31 214.5,392.25 215.0,392.19 215.5,392.12 216.0,392.05 216.5,391.98 217.0,391.90 217.5,391.81 218.0,391.73 218.5,391.63 219.0,391.54 219.5,391.44 220.0,391.33 220.5,391.22 221.0,391.10 221.5,390.97 222.0,390.82 222.5,390.65 223.0,390.46 223.5,390.25 224.0,390.02 224.5,389.77 225.0,389.50 225.5,389.21 226.0,388.90 226.5,388.54 227.0,388.10 227.5,387.58 228.0,387.01 228.5,386.37 229.0,385.66 229.5,384.79 230.0,383.79 230.5,382.69 231.0,381.52 231.5,380.32 232.0,379.13 232.5,377.97 233.0,376.87 233.5,375.78 234.0,374.68 234.5,373.59 235.0,372.49 235.5,371.39 236.0,370.30 236.5,369.20 237.0,368.10 237.5,367.00 238.0,365.90 238.5,364.80 239.0,363.72 239.5,362.65 240.0,361.60 240.5,360.49 241.0,359.29 241.5,358.11 242.0,357.03 242.5,356.16 243.0,355.60 243.5,355.23 244.0,354.90 244.5,354.64 245.0,354.46 245.5,354.40 246.0,354.40 246.5,354.40 247.0,354.40 247.5,354.40 248.0,354.40 248.5,354.40 249.0,354.40 249.5,354.40 250.0,354.40 250.5,354.40 251.0,354.40 251.5,354.40 252.0,354.40 252.5,354.40 253.0,354.40 253.5,354.40 254.0,354.40 254.5,354.40 255.0,354.40 255.5,354.40 256.0,354.40 256.5,354.40 257.0,354.40 257.5,354.40 258.0,354.40 258.5,354.40 259.0,354.40 259.5,354.40 260.0,354.40 260.5,354.40 261.0,354.40 261.5,354.40 262.0,354.40 262.5,354.40 263.0,354.40 263.5,354.40 264.0,354.40 264.5,354.40 265.0,354.40 265.5,354.40 266.0,354.40 266.5,354.40 267.0,354.40 267.5,354.40 268.0,354.40 268.5,354.40 269.0,354.40 269.5,354.40 270.0,354.40 270.5,354.40 271.0,354.40 271.5,354.40 272.0,354.40 272.5,354.40 273.0,354.40 273.5,354.40 274.0,354.40 274.5,354.40 275.0,354.40 275.5,354.40 276.0,354.40 276.5,354.40 277.0,354.40 277.5,354.40 278.0,354.40 278.5,354.40 279.0,354.40 279.5,354.40 280.0,354.40 280.5,354.40 281.0,354.40 281.5,354.40 282.0,354.40 282.5,354.40 283.0,354.40 283.5,354.40 284.0,354.40 284.5,354.40 285.0,354.40 285.5,354.40 286.0,354.40 286.5,354.40 287.0,354.40 287.5,354.40 288.0,354.40 288.5,354.40 289.0,354.40 289.5,354.40 290.0,354.40 290.5,354.40 291.0,354.40 291.5,354.40 292.0,354.40 292.5,354.40 293.0,354.40 293.5,354.40 294.0,354.40 294.5,354.40 295.0,354.40 295.5,354.40 296.0,354.40 296.5,354.40 297.0,354.40 297.5,354.40 298.0,354.40 298.5,354.40 299.0,354.40 299.5,354.40 300.0,354.40 300.5,354.40 301.0,354.40 301.5,354.40 302.0,354.40 302.5,354.40 303.0,354.40 303.5,354.40 304.0,354.40 304.5,354.40 305.0,354.40 305.5,354.40 306.0,354.40 306.5,354.40 307.0,354.40 307.5,354.40 308.0,354.40 308.5,354.40 309.0,354.40 309.5,354.40 310.0,354.40 310.5,354.40 311.0,354.40 311.5,354.40 312.0,354.40 312.5,354.40 313.0,354.40 313.5,354.40 314.0,354.40 314.5,354.40 315.0,354.40 315.5,354.40 316.0,354.40 316.5,354.40 317.0,354.40 317.5,354.40 318.0,354.40 318.5,354.40 319.0,354.40 319.5,354.40 320.0,354.40 320.5,354.40 321.0,354.40 321.5,354.40 322.0,354.40 322.5,354.40 323.0,354.40 323.5,354.40 324.0,354.40 324.5,354.40 325.0,354.40 325.5,354.40 326.0,354.40 326.5,354.40 327.0,354.40 327.5,354.40 328.0,354.40 328.5,354.40 329.0,354.40 329.5,354.40 330.0,354.40 330.5,354.40 331.0,354.40 331.5,354.40 332.0,354.40 332.5,354.40 333.0,354.40 333.5,354.40 334.0,354.40 334.5,354.40 335.0,354.40 335.5,354.40 336.0,354.40 336.5,354.40 337.0,354.40 337.5,354.40 338.0,354.40 338.5,354.40 339.0,354.40 339.5,354.40 340.0,354.40 340.5,354.40 341.0,354.40 341.5,354.40 342.0,354.40 342.5,354.40 343.0,354.40 343.5,354.40 344.0,354.40 344.5,354.40 345.0,354.40 345.5,354.40 346.0,354.40 346.5,354.40 347.0,354.40 347.5,354.40 348.0,354.40 348.5,354.40 349.0,354.40 349.5,354.40 350.0,354.40 350.5,354.40 351.0,354.40 351.5,354.40 352.0,354.40 352.5,354.40 353.0,354.40 353.5,354.40 354.0,354.40 354.5,354.40 355.0,354.40 355.5,354.40 356.0,354.40" fill="none" stroke="#f00" stroke-width="1.1"/>
<g fill="#4169e1"><circle cx="55.4" cy="342.3" r="2.6"/><circle cx="62.1" cy="350.8" r="2.6"/><circle cx="68.4" cy="347.5" r="2.6"/><circle cx="74.4" cy="347.9" r="2.6"/><circle cx="81.1" cy="347.5" r="2.6"/><circle cx="87.2" cy="349.7" r="2.6"/><circle cx="93.5" cy="353.5" r="2.6"/><circle cx="99.5" cy="349.7" r="2.6"/><circle cx="105.8" cy="351.3" r="2.6"/><circle cx="112.1" cy="346.8" r="2.6"/><circle cx="118.8" cy="354.2" r="2.6"/><circle cx="125.4" cy="354.0" r="2.6"/><circle cx="131.4" cy="352.4" r="2.6"/><circle cx="137.7" cy="349.7" r="2.6"/><circle cx="144.0" cy="349.0" r="2.6"/><circle cx="150.5" cy="345.2" r="2.6"/><circle cx="156.7" cy="349.0" r="2.6"/><circle cx="163.0" cy="350.6" r="2.6"/><circle cx="169.1" cy="365.2" r="2.6"/><circle cx="175.3" cy="379.7" r="2.6"/><circle cx="182.0" cy="389.0" r="2.6"/><circle cx="188.4" cy="384.7" r="2.6"/><circle cx="194.4" cy="387.5" r="2.6"/><circle cx="200.7" cy="390.6" r="2.6"/><circle cx="207.2" cy="388.7" r="2.6"/><circle cx="213.5" cy="392.4" r="2.6"/><circle cx="219.9" cy="387.4" r="2.6"/><circle cx="226.0" cy="387.1" r="2.6"/><circle cx="232.6" cy="386.9" r="2.6"/><circle cx="239.1" cy="365.9" r="2.6"/><circle cx="245.6" cy="354.0" r="2.6"/><circle cx="251.9" cy="352.9" r="2.6"/><circle cx="258.2" cy="354.7" r="2.6"/><circle cx="264.7" cy="350.8" r="2.6"/><circle cx="271.0" cy="352.4" r="2.6"/><circle cx="277.2" cy="352.9" r="2.6"/><circle cx="283.7" cy="352.4" r="2.6"/><circle cx="289.5" cy="356.5" r="2.6"/><circle cx="296.2" cy="352.3" r="2.6"/><circle cx="302.3" cy="353.0" r="2.6"/><circle cx="308.6" cy="350.6" r="2.6"/><circle cx="314.6" cy="350.6" r="2.6"/><circle cx="320.9" cy="355.8" r="2.6"/><circle cx="327.0" cy="350.2" r="2.6"/><circle cx="333.4" cy="355.8" r="2.6"/><circle cx="339.9" cy="356.2" r="2.6"/><circle cx="346.5" cy="349.6" r="2.6"/><circle cx="353.0" cy="356.2" r="2.6"/></g>
</g>
<rect x="52.9" y="280.0" width="302.60" height="176.45" fill="none" stroke="#000" stroke-width="0.65"/>
<line x1="50.30" y1="294.87" x2="52.90" y2="294.87" stroke="#000" stroke-width="0.65" />
<line x1="50.30" y1="324.78" x2="52.90" y2="324.78" stroke="#000" stroke-width="0.65" />
<line x1="50.30" y1="354.70" x2="52.90" y2="354.70" stroke="#000" stroke-width="0.65" />
<line x1="50.30" y1="384.62" x2="52.90" y2="384.62" stroke="#000" stroke-width="0.65" />
<line x1="50.30" y1="414.53" x2="52.90" y2="414.53" stroke="#000" stroke-width="0.65" />
<line x1="50.30" y1="444.45" x2="52.90" y2="444.45" stroke="#000" stroke-width="0.65" />
<line x1="82.96" y1="456.45" x2="82.96" y2="459.05" stroke="#000" stroke-width="0.65" />
<line x1="143.60" y1="456.45" x2="143.60" y2="459.05" stroke="#000" stroke-width="0.65" />
<line x1="204.24" y1="456.45" x2="204.24" y2="459.05" stroke="#000" stroke-width="0.65" />
<line x1="264.88" y1="456.45" x2="264.88" y2="459.05" stroke="#000" stroke-width="0.65" />
<line x1="325.52" y1="456.45" x2="325.52" y2="459.05" stroke="#000" stroke-width="0.65" />
<rect x="55.6" y="422.8" width="80.3" height="29.6" rx="1.6" fill="#fff" fill-opacity="0.8" stroke="#cccccc" stroke-width="0.75"/>
<circle cx="65.10" cy="428.60" r="2.75" fill="#4169e1"/>
<circle cx="65.10" cy="437.90" r="1.5" fill="#ff8c00"/>
<circle cx="65.10" cy="447.30" r="1.5" fill="#000"/>
<line x1="294.90" y1="409.00" x2="294.90" y2="434.70" stroke="#808080" stroke-width="1.1" />
<circle cx="294.90" cy="421.80" r="1.9" fill="#000"/>
<clipPath id="cd"><rect x="52.9" y="472.45" width="302.60" height="44.00"/></clipPath>
<g clip-path="url(#cd)">
<g fill="#ff8c00"><circle cx="122.0" cy="488.1" r="1.5"/><circle cx="122.6" cy="495.5" r="1.5"/><circle cx="123.0" cy="495.3" r="1.5"/><circle cx="124.7" cy="497.1" r="1.5"/><circle cx="124.8" cy="496.3" r="1.5"/><circle cx="125.0" cy="507.1" r="1.5"/><circle cx="125.0" cy="509.8" r="1.5"/><circle cx="125.2" cy="500.8" r="1.5"/><circle cx="125.3" cy="501.3" r="1.5"/><circle cx="125.6" cy="490.9" r="1.5"/><circle cx="125.9" cy="484.3" r="1.5"/><circle cx="126.1" cy="499.7" r="1.5"/><circle cx="126.1" cy="494.7" r="1.5"/><circle cx="126.8" cy="502.2" r="1.5"/><circle cx="126.9" cy="477.7" r="1.5"/><circle cx="127.0" cy="482.7" r="1.5"/><circle cx="127.3" cy="482.8" r="1.5"/><circle cx="127.3" cy="494.7" r="1.5"/><circle cx="127.3" cy="503.4" r="1.5"/><circle cx="128.0" cy="481.8" r="1.5"/><circle cx="128.1" cy="489.3" r="1.5"/><circle cx="129.0" cy="476.0" r="1.5"/><circle cx="129.2" cy="481.3" r="1.5"/><circle cx="130.0" cy="476.7" r="1.5"/><circle cx="130.2" cy="495.3" r="1.5"/><circle cx="130.5" cy="497.1" r="1.5"/><circle cx="130.8" cy="491.5" r="1.5"/><circle cx="131.6" cy="505.9" r="1.5"/><circle cx="131.8" cy="507.0" r="1.5"/><circle cx="132.1" cy="494.3" r="1.5"/><circle cx="132.5" cy="492.4" r="1.5"/><circle cx="132.7" cy="491.9" r="1.5"/><circle cx="133.5" cy="490.3" r="1.5"/><circle cx="133.6" cy="506.3" r="1.5"/><circle cx="133.7" cy="496.6" r="1.5"/><circle cx="134.4" cy="491.4" r="1.5"/><circle cx="135.2" cy="492.3" r="1.5"/><circle cx="135.5" cy="499.4" r="1.5"/><circle cx="135.8" cy="490.8" r="1.5"/><circle cx="136.2" cy="497.3" r="1.5"/><circle cx="136.3" cy="494.1" r="1.5"/><circle cx="136.4" cy="506.7" r="1.5"/><circle cx="136.9" cy="505.0" r="1.5"/><circle cx="136.9" cy="481.5" r="1.5"/><circle cx="137.4" cy="492.9" r="1.5"/><circle cx="137.5" cy="500.9" r="1.5"/><circle cx="138.0" cy="490.3" r="1.5"/><circle cx="138.4" cy="501.8" r="1.5"/><circle cx="138.5" cy="497.5" r="1.5"/><circle cx="138.6" cy="499.8" r="1.5"/><circle cx="138.8" cy="493.8" r="1.5"/><circle cx="139.1" cy="497.2" r="1.5"/><circle cx="139.7" cy="499.2" r="1.5"/><circle cx="139.9" cy="481.0" r="1.5"/><circle cx="140.1" cy="486.1" r="1.5"/><circle cx="140.2" cy="485.1" r="1.5"/><circle cx="140.8" cy="509.7" r="1.5"/><circle cx="141.6" cy="497.2" r="1.5"/><circle cx="141.7" cy="497.8" r="1.5"/><circle cx="141.8" cy="496.0" r="1.5"/><circle cx="142.7" cy="489.7" r="1.5"/><circle cx="142.9" cy="487.6" r="1.5"/><circle cx="144.0" cy="502.2" r="1.5"/><circle cx="144.2" cy="491.0" r="1.5"/><circle cx="144.9" cy="508.8" r="1.5"/><circle cx="145.6" cy="496.2" r="1.5"/><circle cx="146.1" cy="495.3" r="1.5"/><circle cx="146.4" cy="492.4" r="1.5"/><circle cx="146.9" cy="493.8" r="1.5"/><circle cx="148.7" cy="494.8" r="1.5"/><circle cx="149.4" cy="508.3" r="1.5"/><circle cx="149.5" cy="497.2" r="1.5"/><circle cx="149.6" cy="484.0" r="1.5"/><circle cx="149.7" cy="496.8" r="1.5"/><circle cx="150.7" cy="500.9" r="1.5"/><circle cx="151.0" cy="486.2" r="1.5"/><circle cx="151.3" cy="488.7" r="1.5"/><circle cx="151.5" cy="490.3" r="1.5"/><circle cx="151.9" cy="502.4" r="1.5"/><circle cx="153.2" cy="500.4" r="1.5"/><circle cx="153.3" cy="494.0" r="1.5"/><circle cx="153.4" cy="493.6" r="1.5"/><circle cx="154.2" cy="495.2" r="1.5"/><circle cx="154.2" cy="496.7" r="1.5"/><circle cx="155.1" cy="474.8" r="1.5"/><circle cx="156.6" cy="496.1" r="1.5"/><circle cx="156.9" cy="502.1" r="1.5"/><circle cx="157.0" cy="489.8" r="1.5"/><circle cx="157.1" cy="497.7" r="1.5"/><circle cx="157.4" cy="491.6" r="1.5"/><circle cx="157.5" cy="493.1" r="1.5"/><circle cx="158.2" cy="486.3" r="1.5"/><circle cx="158.3" cy="487.1" r="1.5"/><circle cx="158.4" cy="498.6" r="1.5"/><circle cx="158.5" cy="501.3" r="1.5"/><circle cx="158.7" cy="498.7" r="1.5"/><circle cx="160.2" cy="488.4" r="1.5"/><circle cx="160.4" cy="497.4" r="1.5"/><circle cx="161.4" cy="478.9" r="1.5"/><circle cx="162.0" cy="503.1" r="1.5"/><circle cx="162.0" cy="494.2" r="1.5"/><circle cx="163.5" cy="497.0" r="1.5"/><circle cx="163.5" cy="505.1" r="1.5"/><circle cx="163.5" cy="490.7" r="1.5"/><circle cx="163.7" cy="503.2" r="1.5"/><circle cx="164.6" cy="490.6" r="1.5"/><circle cx="164.8" cy="499.5" r="1.5"/><circle cx="165.1" cy="490.9" r="1.5"/><circle cx="165.3" cy="497.3" r="1.5"/><circle cx="165.5" cy="507.7" r="1.5"/><circle cx="165.8" cy="488.7" r="1.5"/><circle cx="166.3" cy="489.0" r="1.5"/><circle cx="166.5" cy="491.6" r="1.5"/><circle cx="166.9" cy="497.3" r="1.5"/><circle cx="167.0" cy="495.1" r="1.5"/><circle cx="167.0" cy="489.3" r="1.5"/><circle cx="167.1" cy="476.0" r="1.5"/><circle cx="167.6" cy="488.6" r="1.5"/><circle cx="168.3" cy="480.0" r="1.5"/><circle cx="169.0" cy="489.5" r="1.5"/><circle cx="169.5" cy="494.8" r="1.5"/><circle cx="169.5" cy="485.7" r="1.5"/><circle cx="169.5" cy="488.3" r="1.5"/><circle cx="169.7" cy="477.2" r="1.5"/><circle cx="170.5" cy="496.4" r="1.5"/><circle cx="171.4" cy="487.6" r="1.5"/><circle cx="171.6" cy="505.0" r="1.5"/><circle cx="171.7" cy="504.7" r="1.5"/><circle cx="172.2" cy="486.4" r="1.5"/><circle cx="172.6" cy="491.1" r="1.5"/><circle cx="173.0" cy="495.2" r="1.5"/><circle cx="173.8" cy="502.1" r="1.5"/><circle cx="174.5" cy="478.4" r="1.5"/><circle cx="174.6" cy="494.0" r="1.5"/><circle cx="174.6" cy="512.9" r="1.5"/><circle cx="175.3" cy="493.9" r="1.5"/><circle cx="175.8" cy="496.9" r="1.5"/><circle cx="176.0" cy="494.8" r="1.5"/><circle cx="176.1" cy="483.0" r="1.5"/><circle cx="176.2" cy="504.1" r="1.5"/><circle cx="176.6" cy="497.4" r="1.5"/><circle cx="176.7" cy="496.4" r="1.5"/><circle cx="176.9" cy="502.0" r="1.5"/><circle cx="177.5" cy="502.6" r="1.5"/><circle cx="179.1" cy="476.1" r="1.5"/><circle cx="179.8" cy="499.6" r="1.5"/><circle cx="179.8" cy="489.1" r="1.5"/><circle cx="180.4" cy="496.4" r="1.5"/><circle cx="180.8" cy="487.8" r="1.5"/><circle cx="180.9" cy="486.3" r="1.5"/><circle cx="181.2" cy="504.2" r="1.5"/><circle cx="181.3" cy="494.8" r="1.5"/><circle cx="181.4" cy="492.1" r="1.5"/><circle cx="182.1" cy="492.0" r="1.5"/><circle cx="182.2" cy="495.7" r="1.5"/><circle cx="182.6" cy="494.7" r="1.5"/><circle cx="183.4" cy="503.1" r="1.5"/><circle cx="183.5" cy="486.3" r="1.5"/><circle cx="184.1" cy="492.6" r="1.5"/><circle cx="184.8" cy="502.3" r="1.5"/><circle cx="184.8" cy="508.4" r="1.5"/><circle cx="185.1" cy="485.8" r="1.5"/><circle cx="185.5" cy="514.1" r="1.5"/><circle cx="185.5" cy="495.9" r="1.5"/><circle cx="186.3" cy="499.8" r="1.5"/><circle cx="187.3" cy="489.8" r="1.5"/><circle cx="187.4" cy="489.1" r="1.5"/><circle cx="188.7" cy="509.2" r="1.5"/><circle cx="189.1" cy="492.9" r="1.5"/><circle cx="189.1" cy="494.1" r="1.5"/><circle cx="189.5" cy="506.5" r="1.5"/><circle cx="189.7" cy="512.1" r="1.5"/><circle cx="190.3" cy="480.4" r="1.5"/><circle cx="192.1" cy="493.3" r="1.5"/><circle cx="193.0" cy="495.1" r="1.5"/><circle cx="193.3" cy="513.1" r="1.5"/><circle cx="193.4" cy="501.0" r="1.5"/><circle cx="193.4" cy="494.7" r="1.5"/><circle cx="193.5" cy="498.9" r="1.5"/><circle cx="193.6" cy="503.8" r="1.5"/><circle cx="194.0" cy="506.6" r="1.5"/><circle cx="194.3" cy="492.1" r="1.5"/><circle cx="195.6" cy="503.7" r="1.5"/><circle cx="195.9" cy="488.4" r="1.5"/><circle cx="196.2" cy="505.7" r="1.5"/></g>
<g fill="#000"><circle cx="52.2" cy="495.7" r="1.5"/><circle cx="52.4" cy="499.4" r="1.5"/><circle cx="52.7" cy="494.7" r="1.5"/><circle cx="53.6" cy="497.5" r="1.5"/><circle cx="53.9" cy="493.2" r="1.5"/><circle cx="54.0" cy="496.1" r="1.5"/><circle cx="54.1" cy="500.7" r="1.5"/><circle cx="54.5" cy="497.9" r="1.5"/><circle cx="55.4" cy="506.5" r="1.5"/><circle cx="55.5" cy="501.3" r="1.5"/><circle cx="55.6" cy="501.0" r="1.5"/><circle cx="55.7" cy="499.0" r="1.5"/><circle cx="56.7" cy="487.7" r="1.5"/><circle cx="56.8" cy="498.5" r="1.5"/><circle cx="57.1" cy="497.3" r="1.5"/><circle cx="57.1" cy="491.8" r="1.5"/><circle cx="57.4" cy="497.3" r="1.5"/><circle cx="57.5" cy="496.4" r="1.5"/><circle cx="57.6" cy="492.1" r="1.5"/><circle cx="57.7" cy="493.8" r="1.5"/><circle cx="57.8" cy="493.1" r="1.5"/><circle cx="57.8" cy="495.5" r="1.5"/><circle cx="58.4" cy="492.3" r="1.5"/><circle cx="58.5" cy="497.1" r="1.5"/><circle cx="59.1" cy="485.1" r="1.5"/><circle cx="59.3" cy="493.0" r="1.5"/><circle cx="59.5" cy="486.2" r="1.5"/><circle cx="59.7" cy="492.0" r="1.5"/><circle cx="60.2" cy="496.9" r="1.5"/><circle cx="60.3" cy="494.5" r="1.5"/><circle cx="60.7" cy="493.9" r="1.5"/><circle cx="60.7" cy="494.7" r="1.5"/><circle cx="60.8" cy="502.0" r="1.5"/><circle cx="60.8" cy="489.0" r="1.5"/><circle cx="60.9" cy="498.7" r="1.5"/><circle cx="60.9" cy="487.0" r="1.5"/><circle cx="61.4" cy="492.1" r="1.5"/><circle cx="61.5" cy="495.2" r="1.5"/><circle cx="61.8" cy="490.3" r="1.5"/><circle cx="62.0" cy="495.4" r="1.5"/><circle cx="62.1" cy="497.9" r="1.5"/><circle cx="62.1" cy="488.6" r="1.5"/><circle cx="62.1" cy="494.0" r="1.5"/><circle cx="62.4" cy="492.6" r="1.5"/><circle cx="62.5" cy="485.0" r="1.5"/><circle cx="62.6" cy="493.5" r="1.5"/><circle cx="62.8" cy="490.5" r="1.5"/><circle cx="62.9" cy="500.9" r="1.5"/><circle cx="63.7" cy="490.1" r="1.5"/><circle cx="64.2" cy="502.7" r="1.5"/><circle cx="64.6" cy="491.8" r="1.5"/><circle cx="64.6" cy="503.8" r="1.5"/><circle cx="65.3" cy="497.0" r="1.5"/><circle cx="65.4" cy="496.6" r="1.5"/><circle cx="65.6" cy="498.3" r="1.5"/><circle cx="65.7" cy="498.8" r="1.5"/><circle cx="65.8" cy="501.2" r="1.5"/><circle cx="65.8" cy="502.8" r="1.5"/><circle cx="65.8" cy="492.7" r="1.5"/><circle cx="65.9" cy="488.3" r="1.5"/><circle cx="66.3" cy="481.4" r="1.5"/><circle cx="66.8" cy="492.5" r="1.5"/><circle cx="67.0" cy="498.1" r="1.5"/><circle cx="67.2" cy="496.2" r="1.5"/><circle cx="67.4" cy="495.0" r="1.5"/><circle cx="67.5" cy="492.7" r="1.5"/><circle cx="68.3" cy="491.3" r="1.5"/><circle cx="68.6" cy="493.0" r="1.5"/><circle cx="69.1" cy="496.3" r="1.5"/><circle cx="69.4" cy="485.8" r="1.5"/><circle cx="69.6" cy="497.9" r="1.5"/><circle cx="69.8" cy="487.3" r="1.5"/><circle cx="70.5" cy="493.6" r="1.5"/><circle cx="70.8" cy="491.3" r="1.5"/><circle cx="70.8" cy="492.6" r="1.5"/><circle cx="70.9" cy="489.3" r="1.5"/><circle cx="71.0" cy="488.8" r="1.5"/><circle cx="72.2" cy="493.3" r="1.5"/><circle cx="72.2" cy="489.1" r="1.5"/><circle cx="72.3" cy="506.4" r="1.5"/><circle cx="72.4" cy="492.4" r="1.5"/><circle cx="72.5" cy="491.2" r="1.5"/><circle cx="72.5" cy="491.7" r="1.5"/><circle cx="72.6" cy="489.2" r="1.5"/><circle cx="72.8" cy="482.4" r="1.5"/><circle cx="73.4" cy="493.1" r="1.5"/><circle cx="73.5" cy="495.9" r="1.5"/><circle cx="73.7" cy="487.0" r="1.5"/><circle cx="74.2" cy="494.4" r="1.5"/><circle cx="74.5" cy="488.5" r="1.5"/><circle cx="74.8" cy="494.2" r="1.5"/><circle cx="75.1" cy="496.1" r="1.5"/><circle cx="75.2" cy="496.7" r="1.5"/><circle cx="75.9" cy="496.5" r="1.5"/><circle cx="76.0" cy="490.9" r="1.5"/><circle cx="76.1" cy="498.6" r="1.5"/><circle cx="76.1" cy="492.2" r="1.5"/><circle cx="76.2" cy="496.1" r="1.5"/><circle cx="76.8" cy="497.8" r="1.5"/><circle cx="76.8" cy="492.9" r="1.5"/><circle cx="76.8" cy="488.1" r="1.5"/><circle cx="77.3" cy="497.3" r="1.5"/><circle cx="77.3" cy="488.9" r="1.5"/><circle cx="77.4" cy="490.0" r="1.5"/><circle cx="77.5" cy="489.0" r="1.5"/><circle cx="78.2" cy="498.5" r="1.5"/><circle cx="78.3" cy="493.6" r="1.5"/><circle cx="78.8" cy="483.4" r="1.5"/><circle cx="79.1" cy="497.9" r="1.5"/><circle cx="79.1" cy="504.4" r="1.5"/><circle cx="79.6" cy="503.1" r="1.5"/><circle cx="79.7" cy="491.6" r="1.5"/><circle cx="79.8" cy="494.7" r="1.5"/><circle cx="80.2" cy="496.8" r="1.5"/><circle cx="80.2" cy="498.7" r="1.5"/><circle cx="80.2" cy="494.5" r="1.5"/><circle cx="80.8" cy="489.0" r="1.5"/><circle cx="80.9" cy="498.0" r="1.5"/><circle cx="81.2" cy="497.3" r="1.5"/><circle cx="81.6" cy="487.9" r="1.5"/><circle cx="81.9" cy="492.6" r="1.5"/><circle cx="82.5" cy="495.7" r="1.5"/><circle cx="83.0" cy="494.3" r="1.5"/><circle cx="83.7" cy="496.9" r="1.5"/><circle cx="83.7" cy="498.2" r="1.5"/><circle cx="84.6" cy="497.0" r="1.5"/><circle cx="84.7" cy="493.8" r="1.5"/><circle cx="84.9" cy="487.8" r="1.5"/><circle cx="85.4" cy="497.3" r="1.5"/><circle cx="85.5" cy="501.2" r="1.5"/><circle cx="85.5" cy="504.0" r="1.5"/><circle cx="86.3" cy="494.2" r="1.5"/><circle cx="86.5" cy="494.2" r="1.5"/><circle cx="86.6" cy="501.4" r="1.5"/><circle cx="87.0" cy="501.3" r="1.5"/><circle cx="87.0" cy="496.0" r="1.5"/><circle cx="87.1" cy="497.8" r="1.5"/><circle cx="87.2" cy="490.6" r="1.5"/><circle cx="87.5" cy="497.2" r="1.5"/><circle cx="87.7" cy="490.3" r="1.5"/><circle cx="87.8" cy="493.6" r="1.5"/><circle cx="88.1" cy="493.7" r="1.5"/><circle cx="88.5" cy="492.1" r="1.5"/><circle cx="88.9" cy="484.1" r="1.5"/><circle cx="89.1" cy="490.3" r="1.5"/><circle cx="89.2" cy="496.0" r="1.5"/><circle cx="89.2" cy="494.0" r="1.5"/><circle cx="89.2" cy="492.4" r="1.5"/><circle cx="89.4" cy="496.4" r="1.5"/><circle cx="89.6" cy="497.7" r="1.5"/><circle cx="90.0" cy="498.5" r="1.5"/><circle cx="90.5" cy="490.4" r="1.5"/><circle cx="90.7" cy="494.4" r="1.5"/><circle cx="90.7" cy="492.7" r="1.5"/><circle cx="90.8" cy="490.0" r="1.5"/><circle cx="90.9" cy="487.0" r="1.5"/><circle cx="90.9" cy="493.8" r="1.5"/><circle cx="91.1" cy="490.1" r="1.5"/><circle cx="91.1" cy="504.8" r="1.5"/><circle cx="91.5" cy="493.8" r="1.5"/><circle cx="91.7" cy="493.2" r="1.5"/><circle cx="92.3" cy="492.4" r="1.5"/><circle cx="92.4" cy="503.5" r="1.5"/><circle cx="92.5" cy="489.7" r="1.5"/><circle cx="92.8" cy="493.5" r="1.5"/><circle cx="92.9" cy="490.6" r="1.5"/><circle cx="93.8" cy="493.7" r="1.5"/><circle cx="93.9" cy="494.1" r="1.5"/><circle cx="93.9" cy="499.7" r="1.5"/><circle cx="93.9" cy="487.4" r="1.5"/><circle cx="94.6" cy="494.2" r="1.5"/><circle cx="94.6" cy="502.2" r="1.5"/><circle cx="94.8" cy="491.8" r="1.5"/><circle cx="95.7" cy="493.5" r="1.5"/><circle cx="95.8" cy="490.0" r="1.5"/><circle cx="95.8" cy="481.6" r="1.5"/><circle cx="96.0" cy="493.8" r="1.5"/><circle cx="96.1" cy="500.0" r="1.5"/><circle cx="96.9" cy="492.0" r="1.5"/><circle cx="97.0" cy="485.3" r="1.5"/><circle cx="97.4" cy="495.6" r="1.5"/><circle cx="97.5" cy="494.7" r="1.5"/><circle cx="97.8" cy="499.2" r="1.5"/><circle cx="98.1" cy="498.8" r="1.5"/><circle cx="98.1" cy="493.0" r="1.5"/><circle cx="98.4" cy="496.3" r="1.5"/><circle cx="98.6" cy="485.6" r="1.5"/><circle cx="98.7" cy="499.7" r="1.5"/><circle cx="99.1" cy="495.2" r="1.5"/><circle cx="99.4" cy="499.6" r="1.5"/><circle cx="99.5" cy="499.5" r="1.5"/><circle cx="100.3" cy="492.9" r="1.5"/><circle cx="100.4" cy="493.6" r="1.5"/><circle cx="100.4" cy="490.1" r="1.5"/><circle cx="100.5" cy="484.3" r="1.5"/><circle cx="100.5" cy="493.7" r="1.5"/><circle cx="100.6" cy="495.1" r="1.5"/><circle cx="100.6" cy="489.0" r="1.5"/><circle cx="100.6" cy="497.8" r="1.5"/><circle cx="100.6" cy="494.8" r="1.5"/><circle cx="100.7" cy="496.5" r="1.5"/><circle cx="101.5" cy="490.6" r="1.5"/><circle cx="101.5" cy="485.7" r="1.5"/><circle cx="101.5" cy="498.1" r="1.5"/><circle cx="101.6" cy="497.3" r="1.5"/><circle cx="101.9" cy="493.8" r="1.5"/><circle cx="102.2" cy="492.3" r="1.5"/><circle cx="102.5" cy="493.0" r="1.5"/><circle cx="102.9" cy="493.7" r="1.5"/><circle cx="103.1" cy="491.8" r="1.5"/><circle cx="103.2" cy="484.5" r="1.5"/><circle cx="103.7" cy="498.1" r="1.5"/><circle cx="103.8" cy="487.0" r="1.5"/><circle cx="103.9" cy="492.7" r="1.5"/><circle cx="104.1" cy="492.8" r="1.5"/><circle cx="104.4" cy="495.6" r="1.5"/><circle cx="104.5" cy="486.5" r="1.5"/><circle cx="105.5" cy="500.2" r="1.5"/><circle cx="106.4" cy="497.5" r="1.5"/><circle cx="106.7" cy="498.1" r="1.5"/><circle cx="106.9" cy="500.5" r="1.5"/><circle cx="106.9" cy="490.4" r="1.5"/><circle cx="107.1" cy="494.4" r="1.5"/><circle cx="107.3" cy="496.0" r="1.5"/><circle cx="107.6" cy="500.7" r="1.5"/><circle cx="107.7" cy="500.0" r="1.5"/><circle cx="108.0" cy="491.7" r="1.5"/><circle cx="108.6" cy="493.9" r="1.5"/><circle cx="109.0" cy="495.8" r="1.5"/><circle cx="109.8" cy="485.6" r="1.5"/><circle cx="109.8" cy="491.1" r="1.5"/><circle cx="110.3" cy="491.3" r="1.5"/><circle cx="111.4" cy="502.1" r="1.5"/><circle cx="111.5" cy="491.2" r="1.5"/><circle cx="112.0" cy="502.0" r="1.5"/><circle cx="112.4" cy="494.4" r="1.5"/><circle cx="112.9" cy="486.2" r="1.5"/><circle cx="113.0" cy="505.2" r="1.5"/><circle cx="113.0" cy="489.7" r="1.5"/><circle cx="113.5" cy="497.4" r="1.5"/><circle cx="113.5" cy="502.7" r="1.5"/><circle cx="113.8" cy="491.8" r="1.5"/><circle cx="113.8" cy="488.4" r="1.5"/><circle cx="114.2" cy="499.5" r="1.5"/><circle cx="114.9" cy="494.7" r="1.5"/><circle cx="115.0" cy="488.4" r="1.5"/><circle cx="115.7" cy="489.1" r="1.5"/><circle cx="116.7" cy="492.5" r="1.5"/><circle cx="116.8" cy="499.1" r="1.5"/><circle cx="116.9" cy="493.0" r="1.5"/><circle cx="117.4" cy="497.6" r="1.5"/><circle cx="117.6" cy="502.4" r="1.5"/><circle cx="117.8" cy="500.6" r="1.5"/><circle cx="118.0" cy="501.4" r="1.5"/><circle cx="118.0" cy="500.4" r="1.5"/><circle cx="118.2" cy="486.6" r="1.5"/><circle cx="118.3" cy="500.4" r="1.5"/><circle cx="118.3" cy="496.0" r="1.5"/><circle cx="118.4" cy="493.8" r="1.5"/><circle cx="118.5" cy="489.1" r="1.5"/><circle cx="118.7" cy="486.7" r="1.5"/><circle cx="119.1" cy="489.0" r="1.5"/><circle cx="119.3" cy="494.3" r="1.5"/><circle cx="119.6" cy="488.7" r="1.5"/><circle cx="119.7" cy="490.4" r="1.5"/><circle cx="119.9" cy="491.4" r="1.5"/><circle cx="120.1" cy="497.6" r="1.5"/><circle cx="120.8" cy="493.0" r="1.5"/><circle cx="121.4" cy="493.7" r="1.5"/><circle cx="121.4" cy="500.9" r="1.5"/><circle cx="121.5" cy="492.8" r="1.5"/><circle cx="121.7" cy="497.3" r="1.5"/><circle cx="121.9" cy="489.3" r="1.5"/><circle cx="122.4" cy="496.0" r="1.5"/><circle cx="122.6" cy="495.0" r="1.5"/><circle cx="122.9" cy="495.3" r="1.5"/><circle cx="123.0" cy="492.1" r="1.5"/><circle cx="123.5" cy="489.4" r="1.5"/><circle cx="123.7" cy="492.9" r="1.5"/><circle cx="123.9" cy="492.1" r="1.5"/><circle cx="124.1" cy="499.4" r="1.5"/><circle cx="124.2" cy="498.8" r="1.5"/><circle cx="124.3" cy="488.5" r="1.5"/><circle cx="124.9" cy="497.5" r="1.5"/><circle cx="125.8" cy="492.1" r="1.5"/><circle cx="126.3" cy="496.6" r="1.5"/><circle cx="126.3" cy="492.1" r="1.5"/><circle cx="126.5" cy="487.2" r="1.5"/><circle cx="126.7" cy="499.3" r="1.5"/><circle cx="126.8" cy="496.6" r="1.5"/><circle cx="126.8" cy="488.4" r="1.5"/><circle cx="127.2" cy="485.2" r="1.5"/><circle cx="127.3" cy="491.8" r="1.5"/><circle cx="127.4" cy="488.6" r="1.5"/><circle cx="127.6" cy="492.6" r="1.5"/><circle cx="127.7" cy="497.4" r="1.5"/><circle cx="127.8" cy="501.6" r="1.5"/><circle cx="128.3" cy="492.7" r="1.5"/><circle cx="129.0" cy="501.1" r="1.5"/><circle cx="129.1" cy="500.1" r="1.5"/><circle cx="129.2" cy="492.3" r="1.5"/><circle cx="129.4" cy="486.3" r="1.5"/><circle cx="129.6" cy="498.6" r="1.5"/><circle cx="130.1" cy="497.4" r="1.5"/><circle cx="130.3" cy="505.9" r="1.5"/><circle cx="130.5" cy="501.4" r="1.5"/><circle cx="130.6" cy="498.2" r="1.5"/><circle cx="130.8" cy="502.6" r="1.5"/><circle cx="131.2" cy="489.3" r="1.5"/><circle cx="131.4" cy="495.4" r="1.5"/><circle cx="131.7" cy="493.1" r="1.5"/><circle cx="131.8" cy="502.9" r="1.5"/><circle cx="132.0" cy="497.2" r="1.5"/><circle cx="132.0" cy="497.5" r="1.5"/><circle cx="132.1" cy="501.1" r="1.5"/><circle cx="132.3" cy="490.0" r="1.5"/><circle cx="132.4" cy="498.2" r="1.5"/><circle cx="132.4" cy="492.1" r="1.5"/><circle cx="132.7" cy="495.6" r="1.5"/><circle cx="132.8" cy="497.5" r="1.5"/><circle cx="133.2" cy="495.4" r="1.5"/><circle cx="133.3" cy="489.8" r="1.5"/><circle cx="133.7" cy="501.3" r="1.5"/><circle cx="133.7" cy="496.4" r="1.5"/><circle cx="133.8" cy="494.4" r="1.5"/><circle cx="133.9" cy="497.9" r="1.5"/><circle cx="134.4" cy="491.9" r="1.5"/><circle cx="134.5" cy="503.7" r="1.5"/><circle cx="134.9" cy="495.6" r="1.5"/><circle cx="135.2" cy="496.3" r="1.5"/><circle cx="135.5" cy="496.2" r="1.5"/><circle cx="135.7" cy="490.0" r="1.5"/><circle cx="135.7" cy="488.8" r="1.5"/><circle cx="136.3" cy="495.5" r="1.5"/><circle cx="136.3" cy="496.2" r="1.5"/><circle cx="136.4" cy="501.0" r="1.5"/><circle cx="136.8" cy="496.7" r="1.5"/><circle cx="137.4" cy="489.2" r="1.5"/><circle cx="137.7" cy="497.1" r="1.5"/><circle cx="137.8" cy="498.5" r="1.5"/><circle cx="138.6" cy="499.4" r="1.5"/><circle cx="138.8" cy="496.1" r="1.5"/><circle cx="138.9" cy="488.5" r="1.5"/><circle cx="139.3" cy="500.1" r="1.5"/><circle cx="139.3" cy="490.9" r="1.5"/><circle cx="139.5" cy="497.3" r="1.5"/><circle cx="139.5" cy="486.8" r="1.5"/><circle cx="139.5" cy="498.2" r="1.5"/><circle cx="139.6" cy="490.7" r="1.5"/><circle cx="139.7" cy="499.8" r="1.5"/><circle cx="140.3" cy="503.1" r="1.5"/><circle cx="140.3" cy="500.2" r="1.5"/><circle cx="140.7" cy="488.8" r="1.5"/><circle cx="141.1" cy="489.9" r="1.5"/><circle cx="141.5" cy="490.2" r="1.5"/><circle cx="141.9" cy="497.7" r="1.5"/><circle cx="142.3" cy="496.2" r="1.5"/><circle cx="142.5" cy="495.3" r="1.5"/><circle cx="142.8" cy="496.0" r="1.5"/><circle cx="143.2" cy="497.3" r="1.5"/><circle cx="143.6" cy="497.7" r="1.5"/><circle cx="144.0" cy="502.7" r="1.5"/><circle cx="145.0" cy="494.2" r="1.5"/><circle cx="145.0" cy="495.5" r="1.5"/><circle cx="145.0" cy="485.4" r="1.5"/><circle cx="145.1" cy="488.0" r="1.5"/><circle cx="145.2" cy="491.1" r="1.5"/><circle cx="145.6" cy="488.7" r="1.5"/><circle cx="145.7" cy="495.5" r="1.5"/><circle cx="145.8" cy="499.5" r="1.5"/><circle cx="145.8" cy="492.3" r="1.5"/><circle cx="146.1" cy="492.1" r="1.5"/><circle cx="146.6" cy="492.0" r="1.5"/><circle cx="147.0" cy="495.1" r="1.5"/><circle cx="147.5" cy="491.8" r="1.5"/><circle cx="147.6" cy="496.5" r="1.5"/><circle cx="147.8" cy="495.9" r="1.5"/><circle cx="147.8" cy="496.1" r="1.5"/><circle cx="148.4" cy="498.1" r="1.5"/><circle cx="148.5" cy="494.6" r="1.5"/><circle cx="148.9" cy="495.1" r="1.5"/><circle cx="149.5" cy="503.0" r="1.5"/><circle cx="149.6" cy="494.2" r="1.5"/><circle cx="150.3" cy="498.3" r="1.5"/><circle cx="150.4" cy="494.7" r="1.5"/><circle cx="150.5" cy="492.2" r="1.5"/><circle cx="150.6" cy="492.2" r="1.5"/><circle cx="150.7" cy="490.4" r="1.5"/><circle cx="150.7" cy="494.5" r="1.5"/><circle cx="150.8" cy="491.5" r="1.5"/><circle cx="150.8" cy="492.3" r="1.5"/><circle cx="150.8" cy="500.3" r="1.5"/><circle cx="151.3" cy="493.7" r="1.5"/><circle cx="151.4" cy="499.9" r="1.5"/><circle cx="151.9" cy="495.7" r="1.5"/><circle cx="151.9" cy="498.6" r="1.5"/><circle cx="152.4" cy="491.4" r="1.5"/><circle cx="152.9" cy="495.1" r="1.5"/><circle cx="152.9" cy="507.2" r="1.5"/><circle cx="153.2" cy="498.4" r="1.5"/><circle cx="153.2" cy="499.3" r="1.5"/><circle cx="154.4" cy="495.5" r="1.5"/><circle cx="154.5" cy="498.6" r="1.5"/><circle cx="155.2" cy="488.7" r="1.5"/><circle cx="155.4" cy="490.2" r="1.5"/><circle cx="155.6" cy="496.5" r="1.5"/><circle cx="155.7" cy="498.4" r="1.5"/><circle cx="156.2" cy="492.4" r="1.5"/><circle cx="156.2" cy="493.5" r="1.5"/><circle cx="156.4" cy="492.6" r="1.5"/><circle cx="156.6" cy="493.5" r="1.5"/><circle cx="157.1" cy="488.5" r="1.5"/><circle cx="157.1" cy="487.4" r="1.5"/><circle cx="157.5" cy="494.0" r="1.5"/><circle cx="157.8" cy="485.9" r="1.5"/><circle cx="158.1" cy="489.6" r="1.5"/><circle cx="158.1" cy="491.1" r="1.5"/><circle cx="158.2" cy="489.2" r="1.5"/><circle cx="158.5" cy="495.5" r="1.5"/><circle cx="158.7" cy="492.2" r="1.5"/><circle cx="159.0" cy="493.9" r="1.5"/><circle cx="159.2" cy="489.4" r="1.5"/><circle cx="159.4" cy="490.7" r="1.5"/><circle cx="159.7" cy="496.8" r="1.5"/><circle cx="159.8" cy="496.1" r="1.5"/><circle cx="159.8" cy="492.0" r="1.5"/><circle cx="159.8" cy="496.1" r="1.5"/><circle cx="160.0" cy="495.2" r="1.5"/><circle cx="160.2" cy="495.1" r="1.5"/><circle cx="160.6" cy="502.0" r="1.5"/><circle cx="160.6" cy="492.3" r="1.5"/><circle cx="160.7" cy="496.3" r="1.5"/><circle cx="161.1" cy="496.3" r="1.5"/><circle cx="161.3" cy="493.1" r="1.5"/><circle cx="161.7" cy="488.6" r="1.5"/><circle cx="161.7" cy="497.6" r="1.5"/><circle cx="161.8" cy="495.5" r="1.5"/><circle cx="161.9" cy="494.5" r="1.5"/><circle cx="162.1" cy="494.4" r="1.5"/><circle cx="162.5" cy="494.3" r="1.5"/><circle cx="162.6" cy="489.9" r="1.5"/><circle cx="162.7" cy="495.6" r="1.5"/><circle cx="163.0" cy="485.4" r="1.5"/><circle cx="163.0" cy="494.1" r="1.5"/><circle cx="163.1" cy="486.9" r="1.5"/><circle cx="163.2" cy="492.5" r="1.5"/><circle cx="164.2" cy="497.7" r="1.5"/><circle cx="164.6" cy="492.9" r="1.5"/><circle cx="164.9" cy="491.8" r="1.5"/><circle cx="165.2" cy="496.7" r="1.5"/><circle cx="165.2" cy="492.9" r="1.5"/><circle cx="165.4" cy="492.2" r="1.5"/><circle cx="165.5" cy="492.2" r="1.5"/><circle cx="165.6" cy="501.5" r="1.5"/><circle cx="165.6" cy="497.4" r="1.5"/><circle cx="165.9" cy="496.5" r="1.5"/><circle cx="166.1" cy="488.3" r="1.5"/><circle cx="166.4" cy="497.2" r="1.5"/><circle cx="167.3" cy="487.8" r="1.5"/><circle cx="168.3" cy="496.5" r="1.5"/><circle cx="168.4" cy="488.7" r="1.5"/><circle cx="169.0" cy="503.6" r="1.5"/><circle cx="169.0" cy="485.9" r="1.5"/><circle cx="169.0" cy="500.1" r="1.5"/><circle cx="169.0" cy="498.0" r="1.5"/><circle cx="169.1" cy="485.5" r="1.5"/><circle cx="169.1" cy="492.9" r="1.5"/><circle cx="169.3" cy="501.1" r="1.5"/><circle cx="169.8" cy="499.6" r="1.5"/><circle cx="169.8" cy="486.0" r="1.5"/><circle cx="170.2" cy="491.6" r="1.5"/><circle cx="170.3" cy="488.4" r="1.5"/><circle cx="170.5" cy="489.1" r="1.5"/><circle cx="170.6" cy="491.0" r="1.5"/><circle cx="170.7" cy="503.1" r="1.5"/><circle cx="171.0" cy="494.7" r="1.5"/><circle cx="171.0" cy="493.0" r="1.5"/><circle cx="171.2" cy="492.5" r="1.5"/><circle cx="171.6" cy="497.3" r="1.5"/><circle cx="171.7" cy="497.5" r="1.5"/><circle cx="171.7" cy="489.6" r="1.5"/><circle cx="171.9" cy="501.2" r="1.5"/><circle cx="172.0" cy="488.8" r="1.5"/><circle cx="172.0" cy="492.7" r="1.5"/><circle cx="172.2" cy="496.3" r="1.5"/><circle cx="172.3" cy="502.4" r="1.5"/><circle cx="172.8" cy="492.4" r="1.5"/><circle cx="173.3" cy="495.5" r="1.5"/><circle cx="173.5" cy="500.4" r="1.5"/><circle cx="173.8" cy="497.1" r="1.5"/><circle cx="174.8" cy="499.6" r="1.5"/><circle cx="175.0" cy="499.1" r="1.5"/><circle cx="175.2" cy="495.3" r="1.5"/><circle cx="175.3" cy="497.2" r="1.5"/><circle cx="175.6" cy="498.5" r="1.5"/><circle cx="175.7" cy="493.9" r="1.5"/><circle cx="175.7" cy="501.9" r="1.5"/><circle cx="175.7" cy="484.4" r="1.5"/><circle cx="175.9" cy="489.6" r="1.5"/><circle cx="176.4" cy="501.1" r="1.5"/><circle cx="176.7" cy="496.2" r="1.5"/><circle cx="177.3" cy="490.9" r="1.5"/><circle cx="177.8" cy="495.9" r="1.5"/><circle cx="177.9" cy="499.4" r="1.5"/><circle cx="178.0" cy="491.4" r="1.5"/><circle cx="178.2" cy="497.8" r="1.5"/><circle cx="178.4" cy="493.5" r="1.5"/><circle cx="178.7" cy="493.5" r="1.5"/><circle cx="178.7" cy="493.8" r="1.5"/><circle cx="178.9" cy="499.5" r="1.5"/><circle cx="179.0" cy="488.6" r="1.5"/><circle cx="179.1" cy="492.3" r="1.5"/><circle cx="179.2" cy="497.3" r="1.5"/><circle cx="179.3" cy="488.2" r="1.5"/><circle cx="179.5" cy="486.4" r="1.5"/><circle cx="179.6" cy="496.9" r="1.5"/><circle cx="180.0" cy="494.1" r="1.5"/><circle cx="180.7" cy="493.4" r="1.5"/><circle cx="182.1" cy="494.8" r="1.5"/><circle cx="182.2" cy="489.4" r="1.5"/><circle cx="182.3" cy="508.3" r="1.5"/><circle cx="182.4" cy="489.3" r="1.5"/><circle cx="182.7" cy="492.0" r="1.5"/><circle cx="184.3" cy="487.2" r="1.5"/><circle cx="184.4" cy="492.1" r="1.5"/><circle cx="184.5" cy="501.5" r="1.5"/><circle cx="184.5" cy="494.2" r="1.5"/><circle cx="184.6" cy="497.0" r="1.5"/><circle cx="184.6" cy="491.7" r="1.5"/><circle cx="184.7" cy="502.9" r="1.5"/><circle cx="184.7" cy="494.9" r="1.5"/><circle cx="184.7" cy="488.0" r="1.5"/><circle cx="184.8" cy="497.8" r="1.5"/><circle cx="185.3" cy="492.3" r="1.5"/><circle cx="186.4" cy="497.0" r="1.5"/><circle cx="186.7" cy="494.8" r="1.5"/><circle cx="186.7" cy="495.4" r="1.5"/><circle cx="186.8" cy="494.8" r="1.5"/><circle cx="187.3" cy="489.7" r="1.5"/><circle cx="188.1" cy="486.8" r="1.5"/><circle cx="188.2" cy="498.8" r="1.5"/><circle cx="188.2" cy="493.4" r="1.5"/><circle cx="188.2" cy="495.5" r="1.5"/><circle cx="188.3" cy="491.8" r="1.5"/><circle cx="188.3" cy="484.2" r="1.5"/><circle cx="188.4" cy="487.9" r="1.5"/><circle cx="188.5" cy="500.9" r="1.5"/><circle cx="188.5" cy="490.3" r="1.5"/><circle cx="189.1" cy="492.2" r="1.5"/><circle cx="189.3" cy="486.9" r="1.5"/><circle cx="189.4" cy="491.5" r="1.5"/><circle cx="189.4" cy="492.3" r="1.5"/><circle cx="189.7" cy="493.0" r="1.5"/><circle cx="190.2" cy="493.7" r="1.5"/><circle cx="190.3" cy="491.0" r="1.5"/><circle cx="191.3" cy="491.3" r="1.5"/><circle cx="191.8" cy="494.0" r="1.5"/><circle cx="191.8" cy="495.6" r="1.5"/><circle cx="192.1" cy="493.4" r="1.5"/><circle cx="192.3" cy="502.6" r="1.5"/><circle cx="192.7" cy="495.1" r="1.5"/><circle cx="193.1" cy="494.9" r="1.5"/><circle cx="193.3" cy="490.9" r="1.5"/><circle cx="193.5" cy="499.1" r="1.5"/><circle cx="193.8" cy="489.1" r="1.5"/><circle cx="193.8" cy="486.2" r="1.5"/><circle cx="194.0" cy="489.3" r="1.5"/><circle cx="194.4" cy="497.1" r="1.5"/><circle cx="194.5" cy="488.5" r="1.5"/><circle cx="195.3" cy="500.4" r="1.5"/><circle cx="196.0" cy="493.9" r="1.5"/><circle cx="196.2" cy="486.7" r="1.5"/><circle cx="196.2" cy="492.9" r="1.5"/><circle cx="196.5" cy="502.7" r="1.5"/><circle cx="196.6" cy="489.9" r="1.5"/><circle cx="197.0" cy="487.7" r="1.5"/><circle cx="197.2" cy="496.5" r="1.5"/><circle cx="197.2" cy="500.4" r="1.5"/><circle cx="197.6" cy="499.0" r="1.5"/><circle cx="197.8" cy="492.5" r="1.5"/><circle cx="198.0" cy="495.0" r="1.5"/><circle cx="198.2" cy="495.6" r="1.5"/><circle cx="198.2" cy="499.8" r="1.5"/><circle cx="198.8" cy="504.5" r="1.5"/><circle cx="199.0" cy="493.5" r="1.5"/><circle cx="199.6" cy="500.4" r="1.5"/><circle cx="200.0" cy="492.4" r="1.5"/><circle cx="200.1" cy="496.9" r="1.5"/><circle cx="200.4" cy="489.5" r="1.5"/><circle cx="200.5" cy="490.3" r="1.5"/><circle cx="200.5" cy="496.1" r="1.5"/><circle cx="201.9" cy="489.7" r="1.5"/><circle cx="202.8" cy="498.4" r="1.5"/><circle cx="203.3" cy="491.4" r="1.5"/><circle cx="203.5" cy="494.4" r="1.5"/><circle cx="203.8" cy="493.6" r="1.5"/><circle cx="203.8" cy="492.4" r="1.5"/><circle cx="204.3" cy="494.7" r="1.5"/><circle cx="204.5" cy="499.3" r="1.5"/><circle cx="204.7" cy="488.4" r="1.5"/><circle cx="205.2" cy="488.3" r="1.5"/><circle cx="205.7" cy="495.5" r="1.5"/><circle cx="206.3" cy="493.2" r="1.5"/><circle cx="206.8" cy="489.6" r="1.5"/><circle cx="207.1" cy="495.4" r="1.5"/><circle cx="207.4" cy="489.8" r="1.5"/><circle cx="207.5" cy="493.7" r="1.5"/><circle cx="207.5" cy="500.1" r="1.5"/><circle cx="207.7" cy="484.2" r="1.5"/><circle cx="207.8" cy="495.3" r="1.5"/><circle cx="207.8" cy="496.2" r="1.5"/><circle cx="208.1" cy="489.4" r="1.5"/><circle cx="208.1" cy="496.6" r="1.5"/><circle cx="208.9" cy="495.8" r="1.5"/><circle cx="209.1" cy="492.4" r="1.5"/><circle cx="209.1" cy="500.0" r="1.5"/><circle cx="209.6" cy="487.7" r="1.5"/><circle cx="209.7" cy="497.2" r="1.5"/><circle cx="209.7" cy="492.9" r="1.5"/><circle cx="210.1" cy="488.9" r="1.5"/><circle cx="210.3" cy="493.2" r="1.5"/><circle cx="210.5" cy="492.4" r="1.5"/><circle cx="211.2" cy="498.0" r="1.5"/><circle cx="211.5" cy="486.8" r="1.5"/><circle cx="211.6" cy="493.1" r="1.5"/><circle cx="212.4" cy="491.8" r="1.5"/><circle cx="212.4" cy="501.7" r="1.5"/><circle cx="212.6" cy="488.6" r="1.5"/><circle cx="213.1" cy="499.2" r="1.5"/><circle cx="213.3" cy="485.5" r="1.5"/><circle cx="214.7" cy="495.7" r="1.5"/><circle cx="215.0" cy="493.4" r="1.5"/><circle cx="215.0" cy="495.9" r="1.5"/><circle cx="215.2" cy="490.6" r="1.5"/><circle cx="215.4" cy="484.5" r="1.5"/><circle cx="215.7" cy="486.5" r="1.5"/><circle cx="215.7" cy="500.4" r="1.5"/><circle cx="216.3" cy="495.1" r="1.5"/><circle cx="216.6" cy="489.8" r="1.5"/><circle cx="216.8" cy="498.4" r="1.5"/><circle cx="217.2" cy="490.4" r="1.5"/><circle cx="217.4" cy="490.4" r="1.5"/><circle cx="217.9" cy="488.1" r="1.5"/><circle cx="217.9" cy="499.7" r="1.5"/><circle cx="218.1" cy="503.5" r="1.5"/><circle cx="218.9" cy="489.3" r="1.5"/><circle cx="218.9" cy="495.4" r="1.5"/><circle cx="219.1" cy="498.7" r="1.5"/><circle cx="219.4" cy="504.3" r="1.5"/><circle cx="219.5" cy="482.3" r="1.5"/><circle cx="219.7" cy="494.7" r="1.5"/><circle cx="220.0" cy="497.1" r="1.5"/><circle cx="220.2" cy="486.8" r="1.5"/><circle cx="220.3" cy="495.9" r="1.5"/><circle cx="220.3" cy="494.9" r="1.5"/><circle cx="220.5" cy="497.5" r="1.5"/><circle cx="220.7" cy="491.1" r="1.5"/><circle cx="220.8" cy="496.0" r="1.5"/><circle cx="220.8" cy="491.0" r="1.5"/><circle cx="222.1" cy="496.9" r="1.5"/><circle cx="222.3" cy="494.7" r="1.5"/><circle cx="222.6" cy="492.1" r="1.5"/><circle cx="222.7" cy="487.0" r="1.5"/><circle cx="222.7" cy="502.0" r="1.5"/><circle cx="223.0" cy="499.3" r="1.5"/><circle cx="223.0" cy="498.2" r="1.5"/><circle cx="223.4" cy="490.7" r="1.5"/><circle cx="223.7" cy="492.2" r="1.5"/><circle cx="223.9" cy="502.1" r="1.5"/><circle cx="223.9" cy="497.6" r="1.5"/><circle cx="224.0" cy="489.8" r="1.5"/><circle cx="224.7" cy="494.2" r="1.5"/><circle cx="224.7" cy="494.6" r="1.5"/><circle cx="224.7" cy="493.0" r="1.5"/><circle cx="225.2" cy="489.4" r="1.5"/><circle cx="225.3" cy="500.1" r="1.5"/><circle cx="226.1" cy="496.8" r="1.5"/><circle cx="226.7" cy="493.0" r="1.5"/><circle cx="226.8" cy="486.3" r="1.5"/><circle cx="226.9" cy="491.1" r="1.5"/><circle cx="226.9" cy="493.9" r="1.5"/><circle cx="227.2" cy="498.2" r="1.5"/><circle cx="227.2" cy="492.2" r="1.5"/><circle cx="227.4" cy="499.4" r="1.5"/><circle cx="227.7" cy="494.7" r="1.5"/><circle cx="227.8" cy="490.4" r="1.5"/><circle cx="228.2" cy="480.4" r="1.5"/><circle cx="228.4" cy="488.3" r="1.5"/><circle cx="228.8" cy="486.7" r="1.5"/><circle cx="229.0" cy="493.3" r="1.5"/><circle cx="229.0" cy="495.6" r="1.5"/><circle cx="229.0" cy="500.8" r="1.5"/><circle cx="229.1" cy="494.0" r="1.5"/><circle cx="229.3" cy="488.4" r="1.5"/><circle cx="229.4" cy="505.5" r="1.5"/><circle cx="229.5" cy="495.5" r="1.5"/><circle cx="229.9" cy="492.7" r="1.5"/><circle cx="230.2" cy="492.8" r="1.5"/><circle cx="230.5" cy="487.5" r="1.5"/><circle cx="230.6" cy="497.1" r="1.5"/><circle cx="230.7" cy="495.9" r="1.5"/><circle cx="231.5" cy="501.8" r="1.5"/><circle cx="231.8" cy="499.4" r="1.5"/><circle cx="232.1" cy="498.3" r="1.5"/><circle cx="232.5" cy="500.2" r="1.5"/><circle cx="232.6" cy="492.7" r="1.5"/><circle cx="232.6" cy="491.9" r="1.5"/><circle cx="232.8" cy="493.8" r="1.5"/><circle cx="233.1" cy="488.0" r="1.5"/><circle cx="233.1" cy="493.4" r="1.5"/><circle cx="233.2" cy="492.5" r="1.5"/><circle cx="233.4" cy="497.3" r="1.5"/><circle cx="233.5" cy="494.0" r="1.5"/><circle cx="233.8" cy="484.8" r="1.5"/><circle cx="233.9" cy="494.3" r="1.5"/><circle cx="234.0" cy="501.0" r="1.5"/><circle cx="234.8" cy="485.2" r="1.5"/><circle cx="234.9" cy="490.4" r="1.5"/><circle cx="235.1" cy="494.2" r="1.5"/><circle cx="235.1" cy="487.7" r="1.5"/><circle cx="235.2" cy="491.5" r="1.5"/><circle cx="235.3" cy="494.4" r="1.5"/><circle cx="236.1" cy="487.7" r="1.5"/><circle cx="236.2" cy="495.6" r="1.5"/><circle cx="236.5" cy="496.1" r="1.5"/><circle cx="236.6" cy="488.0" r="1.5"/><circle cx="236.7" cy="494.3" r="1.5"/><circle cx="236.9" cy="499.4" r="1.5"/><circle cx="237.1" cy="493.3" r="1.5"/><circle cx="237.4" cy="496.3" r="1.5"/><circle cx="237.4" cy="497.3" r="1.5"/><circle cx="237.7" cy="493.0" r="1.5"/><circle cx="238.1" cy="499.0" r="1.5"/><circle cx="238.5" cy="496.1" r="1.5"/><circle cx="238.6" cy="489.4" r="1.5"/><circle cx="238.8" cy="496.7" r="1.5"/><circle cx="239.0" cy="498.4" r="1.5"/><circle cx="239.5" cy="498.1" r="1.5"/><circle cx="239.6" cy="491.1" r="1.5"/><circle cx="240.3" cy="496.5" r="1.5"/><circle cx="240.3" cy="500.9" r="1.5"/><circle cx="240.5" cy="495.3" r="1.5"/><circle cx="241.1" cy="500.0" r="1.5"/><circle cx="241.3" cy="500.6" r="1.5"/><circle cx="241.4" cy="494.1" r="1.5"/><circle cx="241.7" cy="497.5" r="1.5"/><circle cx="241.8" cy="492.8" r="1.5"/><circle cx="242.3" cy="499.5" r="1.5"/><circle cx="242.3" cy="493.8" r="1.5"/><circle cx="242.8" cy="491.6" r="1.5"/><circle cx="243.3" cy="494.1" r="1.5"/><circle cx="243.4" cy="493.9" r="1.5"/><circle cx="243.8" cy="496.1" r="1.5"/><circle cx="244.3" cy="496.5" r="1.5"/><circle cx="244.4" cy="488.6" r="1.5"/><circle cx="244.7" cy="491.1" r="1.5"/><circle cx="244.8" cy="496.0" r="1.5"/><circle cx="244.9" cy="496.6" r="1.5"/><circle cx="245.1" cy="494.7" r="1.5"/><circle cx="245.3" cy="507.1" r="1.5"/><circle cx="245.4" cy="499.8" r="1.5"/><circle cx="245.5" cy="493.9" r="1.5"/><circle cx="245.6" cy="497.9" r="1.5"/><circle cx="245.6" cy="500.8" r="1.5"/><circle cx="246.3" cy="496.1" r="1.5"/><circle cx="246.3" cy="485.8" r="1.5"/><circle cx="247.0" cy="494.8" r="1.5"/><circle cx="247.3" cy="494.6" r="1.5"/><circle cx="247.6" cy="504.7" r="1.5"/><circle cx="248.0" cy="485.4" r="1.5"/><circle cx="248.5" cy="501.9" r="1.5"/><circle cx="248.9" cy="493.6" r="1.5"/><circle cx="249.0" cy="498.9" r="1.5"/><circle cx="249.7" cy="493.0" r="1.5"/><circle cx="249.9" cy="495.3" r="1.5"/><circle cx="250.2" cy="499.9" r="1.5"/><circle cx="250.4" cy="494.8" r="1.5"/><circle cx="251.0" cy="499.6" r="1.5"/><circle cx="251.1" cy="494.0" r="1.5"/><circle cx="251.5" cy="492.4" r="1.5"/><circle cx="252.2" cy="493.4" r="1.5"/><circle cx="253.1" cy="492.0" r="1.5"/><circle cx="253.3" cy="493.9" r="1.5"/><circle cx="253.5" cy="501.1" r="1.5"/><circle cx="253.7" cy="488.7" r="1.5"/><circle cx="255.7" cy="486.4" r="1.5"/><circle cx="255.7" cy="494.4" r="1.5"/><circle cx="255.8" cy="502.7" r="1.5"/><circle cx="255.9" cy="499.6" r="1.5"/><circle cx="256.0" cy="500.9" r="1.5"/><circle cx="256.6" cy="500.6" r="1.5"/><circle cx="256.6" cy="490.9" r="1.5"/><circle cx="256.7" cy="495.1" r="1.5"/><circle cx="256.7" cy="481.5" r="1.5"/><circle cx="256.7" cy="491.5" r="1.5"/><circle cx="257.7" cy="497.4" r="1.5"/><circle cx="257.9" cy="486.9" r="1.5"/><circle cx="257.9" cy="484.5" r="1.5"/><circle cx="258.2" cy="488.2" r="1.5"/><circle cx="258.3" cy="495.6" r="1.5"/><circle cx="258.3" cy="500.2" r="1.5"/><circle cx="258.5" cy="507.1" r="1.5"/><circle cx="258.5" cy="501.5" r="1.5"/><circle cx="258.8" cy="487.2" r="1.5"/><circle cx="258.8" cy="483.3" r="1.5"/><circle cx="259.0" cy="495.3" r="1.5"/><circle cx="259.2" cy="499.7" r="1.5"/><circle cx="259.3" cy="486.7" r="1.5"/><circle cx="259.4" cy="492.0" r="1.5"/><circle cx="259.5" cy="492.4" r="1.5"/><circle cx="259.7" cy="494.8" r="1.5"/><circle cx="259.7" cy="493.7" r="1.5"/><circle cx="260.2" cy="497.1" r="1.5"/><circle cx="260.5" cy="499.8" r="1.5"/><circle cx="260.6" cy="495.0" r="1.5"/><circle cx="260.7" cy="498.3" r="1.5"/><circle cx="260.8" cy="504.4" r="1.5"/><circle cx="261.0" cy="489.7" r="1.5"/><circle cx="261.3" cy="489.6" r="1.5"/><circle cx="261.3" cy="497.2" r="1.5"/><circle cx="261.7" cy="503.7" r="1.5"/><circle cx="261.9" cy="495.5" r="1.5"/><circle cx="262.1" cy="500.0" r="1.5"/><circle cx="262.1" cy="493.2" r="1.5"/><circle cx="262.2" cy="499.2" r="1.5"/><circle cx="262.5" cy="491.7" r="1.5"/><circle cx="262.6" cy="498.0" r="1.5"/><circle cx="263.4" cy="496.7" r="1.5"/><circle cx="263.6" cy="496.7" r="1.5"/><circle cx="264.0" cy="501.5" r="1.5"/><circle cx="264.0" cy="500.0" r="1.5"/><circle cx="264.4" cy="491.9" r="1.5"/><circle cx="264.9" cy="499.1" r="1.5"/><circle cx="265.2" cy="486.6" r="1.5"/><circle cx="265.4" cy="499.7" r="1.5"/><circle cx="266.5" cy="508.2" r="1.5"/><circle cx="266.9" cy="497.4" r="1.5"/><circle cx="266.9" cy="497.3" r="1.5"/><circle cx="267.0" cy="495.2" r="1.5"/><circle cx="267.5" cy="498.9" r="1.5"/><circle cx="267.5" cy="492.7" r="1.5"/><circle cx="268.2" cy="498.2" r="1.5"/><circle cx="268.3" cy="493.6" r="1.5"/><circle cx="268.8" cy="492.9" r="1.5"/><circle cx="269.1" cy="495.6" r="1.5"/><circle cx="269.3" cy="494.7" r="1.5"/><circle cx="269.8" cy="486.5" r="1.5"/><circle cx="270.0" cy="505.1" r="1.5"/><circle cx="270.2" cy="495.7" r="1.5"/><circle cx="270.5" cy="486.7" r="1.5"/><circle cx="271.1" cy="500.2" r="1.5"/><circle cx="271.2" cy="494.9" r="1.5"/><circle cx="271.6" cy="496.0" r="1.5"/><circle cx="271.6" cy="498.4" r="1.5"/><circle cx="271.6" cy="490.6" r="1.5"/><circle cx="272.9" cy="480.7" r="1.5"/><circle cx="272.9" cy="494.5" r="1.5"/><circle cx="273.0" cy="496.2" r="1.5"/><circle cx="273.0" cy="499.9" r="1.5"/><circle cx="273.3" cy="491.3" r="1.5"/><circle cx="273.8" cy="493.7" r="1.5"/><circle cx="273.9" cy="497.0" r="1.5"/><circle cx="274.0" cy="493.5" r="1.5"/><circle cx="274.5" cy="493.8" r="1.5"/><circle cx="274.9" cy="496.3" r="1.5"/><circle cx="275.1" cy="490.2" r="1.5"/><circle cx="275.3" cy="502.7" r="1.5"/><circle cx="275.7" cy="490.5" r="1.5"/><circle cx="276.2" cy="495.2" r="1.5"/><circle cx="276.7" cy="493.4" r="1.5"/><circle cx="276.7" cy="491.6" r="1.5"/><circle cx="277.0" cy="497.6" r="1.5"/><circle cx="277.3" cy="499.9" r="1.5"/><circle cx="277.5" cy="502.1" r="1.5"/><circle cx="277.5" cy="497.8" r="1.5"/><circle cx="277.6" cy="492.8" r="1.5"/><circle cx="277.9" cy="499.2" r="1.5"/><circle cx="278.4" cy="488.0" r="1.5"/><circle cx="278.8" cy="495.2" r="1.5"/><circle cx="278.8" cy="497.5" r="1.5"/><circle cx="278.8" cy="497.7" r="1.5"/><circle cx="278.9" cy="489.4" r="1.5"/><circle cx="279.0" cy="487.7" r="1.5"/><circle cx="279.6" cy="503.0" r="1.5"/><circle cx="279.8" cy="492.5" r="1.5"/><circle cx="279.8" cy="486.9" r="1.5"/><circle cx="280.0" cy="488.9" r="1.5"/><circle cx="280.4" cy="495.0" r="1.5"/><circle cx="280.7" cy="500.7" r="1.5"/><circle cx="280.7" cy="494.9" r="1.5"/><circle cx="281.0" cy="500.7" r="1.5"/><circle cx="281.7" cy="496.0" r="1.5"/><circle cx="281.9" cy="497.2" r="1.5"/><circle cx="282.0" cy="499.7" r="1.5"/><circle cx="282.4" cy="493.0" r="1.5"/><circle cx="282.4" cy="496.3" r="1.5"/><circle cx="282.7" cy="493.0" r="1.5"/><circle cx="282.8" cy="491.7" r="1.5"/><circle cx="283.1" cy="498.0" r="1.5"/><circle cx="283.2" cy="490.8" r="1.5"/><circle cx="283.3" cy="495.2" r="1.5"/><circle cx="283.4" cy="491.0" r="1.5"/><circle cx="283.4" cy="494.4" r="1.5"/><circle cx="284.0" cy="492.2" r="1.5"/><circle cx="284.3" cy="500.1" r="1.5"/><circle cx="284.5" cy="495.2" r="1.5"/><circle cx="284.9" cy="495.2" r="1.5"/><circle cx="285.6" cy="502.8" r="1.5"/><circle cx="285.7" cy="480.7" r="1.5"/><circle cx="285.8" cy="489.3" r="1.5"/><circle cx="285.9" cy="481.4" r="1.5"/><circle cx="286.1" cy="494.7" r="1.5"/><circle cx="286.8" cy="496.8" r="1.5"/><circle cx="288.1" cy="497.8" r="1.5"/><circle cx="288.3" cy="496.0" r="1.5"/><circle cx="288.8" cy="490.4" r="1.5"/><circle cx="289.1" cy="503.2" r="1.5"/><circle cx="289.4" cy="496.1" r="1.5"/><circle cx="289.7" cy="493.4" r="1.5"/><circle cx="290.0" cy="489.2" r="1.5"/><circle cx="290.3" cy="496.7" r="1.5"/><circle cx="291.0" cy="492.2" r="1.5"/><circle cx="291.0" cy="492.4" r="1.5"/><circle cx="291.1" cy="495.6" r="1.5"/><circle cx="291.4" cy="495.6" r="1.5"/><circle cx="291.6" cy="490.6" r="1.5"/><circle cx="292.1" cy="500.7" r="1.5"/><circle cx="292.1" cy="489.7" r="1.5"/><circle cx="292.8" cy="489.1" r="1.5"/><circle cx="293.6" cy="496.0" r="1.5"/><circle cx="294.2" cy="495.2" r="1.5"/><circle cx="294.4" cy="494.9" r="1.5"/><circle cx="294.8" cy="492.5" r="1.5"/><circle cx="294.8" cy="494.7" r="1.5"/><circle cx="294.8" cy="491.8" r="1.5"/><circle cx="295.0" cy="486.5" r="1.5"/><circle cx="295.1" cy="498.1" r="1.5"/><circle cx="295.1" cy="489.6" r="1.5"/><circle cx="295.2" cy="493.4" r="1.5"/><circle cx="295.3" cy="498.1" r="1.5"/><circle cx="295.8" cy="494.6" r="1.5"/><circle cx="295.9" cy="507.8" r="1.5"/><circle cx="296.0" cy="487.7" r="1.5"/><circle cx="296.2" cy="490.8" r="1.5"/><circle cx="296.3" cy="494.9" r="1.5"/><circle cx="296.6" cy="501.1" r="1.5"/><circle cx="296.7" cy="493.3" r="1.5"/><circle cx="296.8" cy="487.5" r="1.5"/><circle cx="297.0" cy="500.0" r="1.5"/><circle cx="297.1" cy="490.0" r="1.5"/><circle cx="297.1" cy="493.5" r="1.5"/><circle cx="297.6" cy="498.8" r="1.5"/><circle cx="297.8" cy="491.2" r="1.5"/><circle cx="297.9" cy="492.3" r="1.5"/><circle cx="298.0" cy="496.8" r="1.5"/><circle cx="298.3" cy="493.5" r="1.5"/><circle cx="298.5" cy="495.8" r="1.5"/><circle cx="299.0" cy="489.8" r="1.5"/><circle cx="299.4" cy="493.9" r="1.5"/><circle cx="299.6" cy="489.1" r="1.5"/><circle cx="299.6" cy="486.9" r="1.5"/><circle cx="300.3" cy="503.0" r="1.5"/><circle cx="300.7" cy="496.6" r="1.5"/><circle cx="300.7" cy="498.9" r="1.5"/><circle cx="301.5" cy="489.7" r="1.5"/><circle cx="301.7" cy="494.3" r="1.5"/><circle cx="301.9" cy="493.4" r="1.5"/><circle cx="302.7" cy="487.5" r="1.5"/><circle cx="302.8" cy="497.1" r="1.5"/><circle cx="303.7" cy="490.9" r="1.5"/><circle cx="304.6" cy="493.4" r="1.5"/><circle cx="304.7" cy="487.0" r="1.5"/><circle cx="305.4" cy="499.3" r="1.5"/><circle cx="305.4" cy="498.1" r="1.5"/><circle cx="305.5" cy="496.3" r="1.5"/><circle cx="307.1" cy="490.0" r="1.5"/><circle cx="307.1" cy="491.8" r="1.5"/><circle cx="307.2" cy="500.4" r="1.5"/><circle cx="307.9" cy="493.1" r="1.5"/><circle cx="308.3" cy="495.7" r="1.5"/><circle cx="308.3" cy="495.1" r="1.5"/><circle cx="308.9" cy="489.0" r="1.5"/><circle cx="308.9" cy="501.8" r="1.5"/><circle cx="309.2" cy="484.8" r="1.5"/><circle cx="309.4" cy="495.5" r="1.5"/><circle cx="309.5" cy="494.0" r="1.5"/><circle cx="309.6" cy="486.5" r="1.5"/><circle cx="309.6" cy="496.0" r="1.5"/><circle cx="310.2" cy="497.0" r="1.5"/><circle cx="310.3" cy="494.7" r="1.5"/><circle cx="310.7" cy="490.4" r="1.5"/><circle cx="310.9" cy="496.6" r="1.5"/><circle cx="310.9" cy="499.8" r="1.5"/><circle cx="311.0" cy="495.5" r="1.5"/><circle cx="311.1" cy="502.8" r="1.5"/><circle cx="311.3" cy="498.6" r="1.5"/><circle cx="311.5" cy="498.2" r="1.5"/><circle cx="313.4" cy="501.2" r="1.5"/><circle cx="314.1" cy="491.2" r="1.5"/><circle cx="314.6" cy="491.9" r="1.5"/><circle cx="314.7" cy="496.9" r="1.5"/><circle cx="315.1" cy="497.0" r="1.5"/><circle cx="315.2" cy="501.8" r="1.5"/><circle cx="315.3" cy="500.0" r="1.5"/><circle cx="315.3" cy="495.3" r="1.5"/><circle cx="315.6" cy="495.5" r="1.5"/><circle cx="315.7" cy="493.1" r="1.5"/><circle cx="315.9" cy="492.7" r="1.5"/><circle cx="316.0" cy="492.2" r="1.5"/><circle cx="316.5" cy="498.9" r="1.5"/><circle cx="316.6" cy="492.2" r="1.5"/><circle cx="316.6" cy="492.7" r="1.5"/><circle cx="316.7" cy="495.2" r="1.5"/><circle cx="316.8" cy="492.0" r="1.5"/><circle cx="317.6" cy="493.4" r="1.5"/><circle cx="317.7" cy="483.9" r="1.5"/><circle cx="317.8" cy="496.3" r="1.5"/><circle cx="318.0" cy="493.0" r="1.5"/><circle cx="318.2" cy="495.5" r="1.5"/><circle cx="318.4" cy="496.3" r="1.5"/><circle cx="318.5" cy="485.5" r="1.5"/><circle cx="318.5" cy="506.3" r="1.5"/><circle cx="318.8" cy="495.4" r="1.5"/><circle cx="319.5" cy="495.5" r="1.5"/><circle cx="319.6" cy="486.0" r="1.5"/><circle cx="319.6" cy="497.8" r="1.5"/><circle cx="319.9" cy="496.8" r="1.5"/><circle cx="320.2" cy="493.1" r="1.5"/><circle cx="320.4" cy="496.1" r="1.5"/><circle cx="320.6" cy="501.2" r="1.5"/><circle cx="320.9" cy="493.3" r="1.5"/><circle cx="321.8" cy="490.6" r="1.5"/><circle cx="321.8" cy="501.5" r="1.5"/><circle cx="322.1" cy="496.3" r="1.5"/><circle cx="322.3" cy="494.2" r="1.5"/><circle cx="322.7" cy="506.3" r="1.5"/><circle cx="322.8" cy="495.9" r="1.5"/><circle cx="324.0" cy="494.3" r="1.5"/><circle cx="324.2" cy="496.4" r="1.5"/><circle cx="324.3" cy="493.2" r="1.5"/><circle cx="324.4" cy="496.2" r="1.5"/><circle cx="324.5" cy="495.8" r="1.5"/><circle cx="325.0" cy="491.9" r="1.5"/><circle cx="325.3" cy="493.8" r="1.5"/><circle cx="325.6" cy="496.6" r="1.5"/><circle cx="325.7" cy="496.9" r="1.5"/><circle cx="326.0" cy="497.9" r="1.5"/><circle cx="326.1" cy="498.9" r="1.5"/><circle cx="326.1" cy="496.3" r="1.5"/><circle cx="326.3" cy="497.6" r="1.5"/><circle cx="326.3" cy="493.2" r="1.5"/><circle cx="326.4" cy="493.8" r="1.5"/><circle cx="327.2" cy="500.1" r="1.5"/><circle cx="327.3" cy="485.4" r="1.5"/><circle cx="327.5" cy="496.8" r="1.5"/><circle cx="327.8" cy="494.1" r="1.5"/><circle cx="327.8" cy="486.0" r="1.5"/><circle cx="328.1" cy="502.3" r="1.5"/><circle cx="328.4" cy="486.4" r="1.5"/><circle cx="328.4" cy="496.7" r="1.5"/><circle cx="328.5" cy="502.8" r="1.5"/><circle cx="328.7" cy="502.1" r="1.5"/><circle cx="329.1" cy="490.4" r="1.5"/><circle cx="329.2" cy="488.5" r="1.5"/><circle cx="329.4" cy="487.8" r="1.5"/><circle cx="329.9" cy="498.2" r="1.5"/><circle cx="329.9" cy="492.8" r="1.5"/><circle cx="330.2" cy="494.7" r="1.5"/><circle cx="330.3" cy="496.0" r="1.5"/><circle cx="330.6" cy="496.7" r="1.5"/><circle cx="330.9" cy="497.3" r="1.5"/><circle cx="330.9" cy="495.3" r="1.5"/><circle cx="330.9" cy="486.8" r="1.5"/><circle cx="331.7" cy="501.7" r="1.5"/><circle cx="332.2" cy="481.3" r="1.5"/><circle cx="333.7" cy="500.6" r="1.5"/><circle cx="333.8" cy="491.7" r="1.5"/><circle cx="334.0" cy="493.7" r="1.5"/><circle cx="334.2" cy="492.1" r="1.5"/><circle cx="334.5" cy="492.8" r="1.5"/><circle cx="334.5" cy="494.5" r="1.5"/><circle cx="334.9" cy="493.2" r="1.5"/><circle cx="335.7" cy="489.3" r="1.5"/><circle cx="335.9" cy="498.7" r="1.5"/><circle cx="336.4" cy="491.8" r="1.5"/><circle cx="336.5" cy="501.1" r="1.5"/><circle cx="336.6" cy="493.8" r="1.5"/><circle cx="336.6" cy="491.1" r="1.5"/><circle cx="337.0" cy="496.7" r="1.5"/><circle cx="337.1" cy="498.9" r="1.5"/><circle cx="337.3" cy="490.1" r="1.5"/><circle cx="338.0" cy="493.2" r="1.5"/><circle cx="338.1" cy="501.5" r="1.5"/><circle cx="338.1" cy="489.7" r="1.5"/><circle cx="338.1" cy="490.4" r="1.5"/><circle cx="338.2" cy="495.4" r="1.5"/><circle cx="338.4" cy="488.7" r="1.5"/><circle cx="338.6" cy="482.6" r="1.5"/><circle cx="338.9" cy="486.5" r="1.5"/><circle cx="339.1" cy="496.4" r="1.5"/><circle cx="339.1" cy="497.8" r="1.5"/><circle cx="339.3" cy="497.5" r="1.5"/><circle cx="339.7" cy="496.5" r="1.5"/><circle cx="339.7" cy="488.6" r="1.5"/><circle cx="340.0" cy="497.9" r="1.5"/><circle cx="340.3" cy="500.2" r="1.5"/><circle cx="340.7" cy="491.2" r="1.5"/><circle cx="342.0" cy="499.2" r="1.5"/><circle cx="342.2" cy="492.8" r="1.5"/><circle cx="342.4" cy="495.5" r="1.5"/><circle cx="343.0" cy="496.4" r="1.5"/><circle cx="343.1" cy="487.4" r="1.5"/><circle cx="343.1" cy="501.7" r="1.5"/><circle cx="343.6" cy="490.4" r="1.5"/><circle cx="344.3" cy="494.1" r="1.5"/><circle cx="344.4" cy="492.2" r="1.5"/><circle cx="344.9" cy="496.8" r="1.5"/><circle cx="345.2" cy="496.7" r="1.5"/><circle cx="346.2" cy="494.7" r="1.5"/><circle cx="346.2" cy="501.5" r="1.5"/><circle cx="346.2" cy="496.0" r="1.5"/><circle cx="346.4" cy="492.7" r="1.5"/><circle cx="346.4" cy="480.6" r="1.5"/><circle cx="347.1" cy="493.2" r="1.5"/><circle cx="347.1" cy="493.2" r="1.5"/><circle cx="347.5" cy="490.4" r="1.5"/><circle cx="348.1" cy="490.4" r="1.5"/><circle cx="348.2" cy="497.5" r="1.5"/><circle cx="348.5" cy="499.7" r="1.5"/><circle cx="349.1" cy="503.8" r="1.5"/><circle cx="349.4" cy="500.2" r="1.5"/><circle cx="349.4" cy="491.2" r="1.5"/><circle cx="349.7" cy="495.8" r="1.5"/><circle cx="349.8" cy="488.0" r="1.5"/><circle cx="350.0" cy="498.2" r="1.5"/><circle cx="350.1" cy="496.3" r="1.5"/><circle cx="350.1" cy="491.6" r="1.5"/><circle cx="350.2" cy="494.1" r="1.5"/><circle cx="350.2" cy="493.4" r="1.5"/><circle cx="351.8" cy="491.5" r="1.5"/><circle cx="352.1" cy="501.0" r="1.5"/><circle cx="352.8" cy="501.3" r="1.5"/><circle cx="352.8" cy="498.6" r="1.5"/><circle cx="353.2" cy="499.8" r="1.5"/><circle cx="353.4" cy="495.4" r="1.5"/><circle cx="354.5" cy="492.9" r="1.5"/><circle cx="354.7" cy="505.3" r="1.5"/><circle cx="354.9" cy="492.8" r="1.5"/><circle cx="355.5" cy="496.5" r="1.5"/><circle cx="355.6" cy="494.0" r="1.5"/></g>
<g fill="#4169e1"><circle cx="55.4" cy="494.0" r="2.6"/><circle cx="62.1" cy="493.7" r="2.6"/><circle cx="68.4" cy="494.4" r="2.6"/><circle cx="74.4" cy="494.9" r="2.6"/><circle cx="81.1" cy="495.4" r="2.6"/><circle cx="87.2" cy="494.7" r="2.6"/><circle cx="93.5" cy="494.2" r="2.6"/><circle cx="99.5" cy="494.1" r="2.6"/><circle cx="105.8" cy="495.1" r="2.6"/><circle cx="112.1" cy="495.7" r="2.6"/><circle cx="118.8" cy="494.8" r="2.6"/><circle cx="125.4" cy="493.7" r="2.6"/><circle cx="131.4" cy="493.9" r="2.6"/><circle cx="137.7" cy="495.7" r="2.6"/><circle cx="144.0" cy="494.7" r="2.6"/><circle cx="150.5" cy="493.4" r="2.6"/><circle cx="156.7" cy="494.5" r="2.6"/><circle cx="163.0" cy="493.8" r="2.6"/><circle cx="169.1" cy="494.2" r="2.6"/><circle cx="175.3" cy="494.3" r="2.6"/><circle cx="182.0" cy="494.1" r="2.6"/><circle cx="188.4" cy="495.0" r="2.6"/><circle cx="194.4" cy="494.6" r="2.6"/><circle cx="200.7" cy="494.2" r="2.6"/><circle cx="207.2" cy="494.9" r="2.6"/><circle cx="213.5" cy="495.2" r="2.6"/><circle cx="219.9" cy="493.4" r="2.6"/><circle cx="226.0" cy="494.4" r="2.6"/><circle cx="232.6" cy="493.9" r="2.6"/><circle cx="239.1" cy="494.5" r="2.6"/><circle cx="245.6" cy="493.7" r="2.6"/><circle cx="251.9" cy="494.6" r="2.6"/><circle cx="258.2" cy="494.6" r="2.6"/><circle cx="264.7" cy="494.4" r="2.6"/><circle cx="271.0" cy="493.9" r="2.6"/><circle cx="277.2" cy="494.3" r="2.6"/><circle cx="283.7" cy="493.8" r="2.6"/><circle cx="289.5" cy="493.7" r="2.6"/><circle cx="296.2" cy="494.8" r="2.6"/><circle cx="302.3" cy="493.8" r="2.6"/><circle cx="308.6" cy="495.4" r="2.6"/><circle cx="314.6" cy="495.1" r="2.6"/><circle cx="320.9" cy="493.2" r="2.6"/><circle cx="327.0" cy="494.8" r="2.6"/><circle cx="333.4" cy="493.8" r="2.6"/><circle cx="339.9" cy="494.6" r="2.6"/><circle cx="346.5" cy="494.6" r="2.6"/><circle cx="353.0" cy="493.2" r="2.6"/></g>
<line x1="52.90" y1="494.45" x2="355.50" y2="494.45" stroke="#dc143c" stroke-width="1.15" stroke-dasharray="3.5 1.5" stroke-dashoffset="4.1"/>
</g>
<rect x="52.9" y="472.45" width="302.60" height="44.00" fill="none" stroke="#000" stroke-width="0.65"/>
<line x1="50.30" y1="480.45" x2="52.90" y2="480.45" stroke="#000" stroke-width="0.65" />
<line x1="50.30" y1="494.45" x2="52.90" y2="494.45" stroke="#000" stroke-width="0.65" />
<line x1="50.30" y1="508.45" x2="52.90" y2="508.45" stroke="#000" stroke-width="0.65" />
<line x1="82.96" y1="516.45" x2="82.96" y2="519.05" stroke="#000" stroke-width="0.65" />
<line x1="143.60" y1="516.45" x2="143.60" y2="519.05" stroke="#000" stroke-width="0.65" />
<line x1="204.24" y1="516.45" x2="204.24" y2="519.05" stroke="#000" stroke-width="0.65" />
<line x1="264.88" y1="516.45" x2="264.88" y2="519.05" stroke="#000" stroke-width="0.65" />
<line x1="325.52" y1="516.45" x2="325.52" y2="519.05" stroke="#000" stroke-width="0.65" />
</g>
<text x="33.60" y="10.90" font-size="8.40" text-anchor="end" fill="#000" textLength="4.77" lengthAdjust="spacingAndGlyphs" >6</text>
<text x="33.60" y="35.16" font-size="8.40" text-anchor="end" fill="#000" textLength="4.77" lengthAdjust="spacingAndGlyphs" >4</text>
<text x="33.60" y="59.42" font-size="8.40" text-anchor="end" fill="#000" textLength="4.77" lengthAdjust="spacingAndGlyphs" >2</text>
<text x="33.60" y="83.68" font-size="8.40" text-anchor="end" fill="#000" textLength="4.77" lengthAdjust="spacingAndGlyphs" >0</text>
<text x="33.60" y="107.94" font-size="8.40" text-anchor="end" fill="#000" textLength="11.06" lengthAdjust="spacingAndGlyphs" >−2</text>
<text x="33.60" y="132.20" font-size="8.40" text-anchor="end" fill="#000" textLength="11.06" lengthAdjust="spacingAndGlyphs" >−4</text>
<text x="33.60" y="156.46" font-size="8.40" text-anchor="end" fill="#000" textLength="11.06" lengthAdjust="spacingAndGlyphs" >−6</text>
<text x="17.20" y="80.00" font-size="11.80" text-anchor="middle" fill="#000" textLength="55.83" lengthAdjust="spacingAndGlyphs" transform="rotate(-90 17.20 80.00)" class="a">RV (km/s)</text>
<text x="61.80" y="11.90" font-size="6.50" text-anchor="start" fill="#000" textLength="25.24" lengthAdjust="spacingAndGlyphs" class="l">CHIRON</text>
<text x="61.80" y="21.40" font-size="6.50" text-anchor="start" fill="#000" textLength="27.35" lengthAdjust="spacingAndGlyphs" class="l">CORALIE</text>
<text x="61.80" y="30.90" font-size="6.50" text-anchor="start" fill="#000" textLength="21.11" lengthAdjust="spacingAndGlyphs" class="l">FEROS</text>
<text class="a" x="271.5" y="150.6" font-size="10.9" font-style="italic" fill="#000" textLength="5.9" lengthAdjust="spacingAndGlyphs">P</text>
<text class="a" x="277.7" y="152.4" font-size="7.85" font-style="italic" fill="#000" textLength="11.3" lengthAdjust="spacingAndGlyphs">orb</text>
<text class="a" x="293.0" y="150.6" font-size="10.9" fill="#000" textLength="4.6" lengthAdjust="spacingAndGlyphs">=</text>
<text class="a" x="300.9" y="150.6" font-size="10.9" fill="#000" textLength="47.3" lengthAdjust="spacingAndGlyphs">6.56 days</text>
<text x="33.60" y="216.44" font-size="8.40" text-anchor="end" fill="#000" textLength="11.93" lengthAdjust="spacingAndGlyphs" >0.0</text>
<text x="33.60" y="235.18" font-size="8.40" text-anchor="end" fill="#000" textLength="18.21" lengthAdjust="spacingAndGlyphs" >−0.1</text>
<text x="52.52" y="245.70" font-size="8.40" text-anchor="middle" fill="#000" textLength="11.93" lengthAdjust="spacingAndGlyphs" >0.0</text>
<text x="110.25" y="245.70" font-size="8.40" text-anchor="middle" fill="#000" textLength="11.93" lengthAdjust="spacingAndGlyphs" >0.2</text>
<text x="167.99" y="245.70" font-size="8.40" text-anchor="middle" fill="#000" textLength="11.93" lengthAdjust="spacingAndGlyphs" >0.4</text>
<text x="225.72" y="245.70" font-size="8.40" text-anchor="middle" fill="#000" textLength="11.93" lengthAdjust="spacingAndGlyphs" >0.6</text>
<text x="283.46" y="245.70" font-size="8.40" text-anchor="middle" fill="#000" textLength="11.93" lengthAdjust="spacingAndGlyphs" >0.8</text>
<text x="341.19" y="245.70" font-size="8.40" text-anchor="middle" fill="#000" textLength="11.93" lengthAdjust="spacingAndGlyphs" >1.0</text>
<text x="10.10" y="215.00" font-size="11.80" text-anchor="middle" fill="#000" textLength="95.33" lengthAdjust="spacingAndGlyphs" transform="rotate(-90 10.10 215.00)" class="a">Residuals (km/s)</text>
<text x="196.70" y="257.90" font-size="11.80" text-anchor="middle" fill="#000" textLength="34.49" lengthAdjust="spacingAndGlyphs" class="a">Phase</text>
<text x="48.10" y="297.95" font-size="8.40" text-anchor="end" fill="#000" textLength="21.47" lengthAdjust="spacingAndGlyphs" >1.004</text>
<text x="48.10" y="327.87" font-size="8.40" text-anchor="end" fill="#000" textLength="21.47" lengthAdjust="spacingAndGlyphs" >1.002</text>
<text x="48.10" y="357.78" font-size="8.40" text-anchor="end" fill="#000" textLength="21.47" lengthAdjust="spacingAndGlyphs" >1.000</text>
<text x="48.10" y="387.70" font-size="8.40" text-anchor="end" fill="#000" textLength="21.47" lengthAdjust="spacingAndGlyphs" >0.998</text>
<text x="48.10" y="417.62" font-size="8.40" text-anchor="end" fill="#000" textLength="21.47" lengthAdjust="spacingAndGlyphs" >0.996</text>
<text x="48.10" y="447.53" font-size="8.40" text-anchor="end" fill="#000" textLength="21.47" lengthAdjust="spacingAndGlyphs" >0.994</text>
<text x="21.00" y="367.50" font-size="11.80" text-anchor="middle" fill="#000" textLength="90.60" lengthAdjust="spacingAndGlyphs" transform="rotate(-90 21.00 367.50)" class="a">Normalized flux</text>
<text x="76.30" y="430.90" font-size="6.50" text-anchor="start" fill="#000" textLength="56.40" lengthAdjust="spacingAndGlyphs" class="l">Binned TESS data</text>
<text x="76.30" y="440.20" font-size="6.50" text-anchor="start" fill="#000" textLength="27.51" lengthAdjust="spacingAndGlyphs" class="l">LCO 1-m</text>
<text x="76.30" y="449.60" font-size="6.50" text-anchor="start" fill="#000" textLength="15.95" lengthAdjust="spacingAndGlyphs" class="l">TESS</text>
<text x="264.00" y="404.20" font-size="6.50" text-anchor="start" fill="#000" textLength="61.60" lengthAdjust="spacingAndGlyphs" class="l">Typical uncertainty</text>
<text x="48.10" y="483.53" font-size="8.40" text-anchor="end" fill="#000" textLength="26.24" lengthAdjust="spacingAndGlyphs" >0.0025</text>
<text x="48.10" y="497.53" font-size="8.40" text-anchor="end" fill="#000" textLength="26.24" lengthAdjust="spacingAndGlyphs" >0.0000</text>
<text x="48.10" y="511.53" font-size="8.40" text-anchor="end" fill="#000" textLength="32.53" lengthAdjust="spacingAndGlyphs" >−0.0025</text>
<text x="82.96" y="526.60" font-size="8.40" text-anchor="middle" fill="#000" textLength="11.06" lengthAdjust="spacingAndGlyphs" >−4</text>
<text x="143.60" y="526.60" font-size="8.40" text-anchor="middle" fill="#000" textLength="11.06" lengthAdjust="spacingAndGlyphs" >−2</text>
<text x="204.24" y="526.60" font-size="8.40" text-anchor="middle" fill="#000" textLength="4.77" lengthAdjust="spacingAndGlyphs" >0</text>
<text x="264.88" y="526.60" font-size="8.40" text-anchor="middle" fill="#000" textLength="4.77" lengthAdjust="spacingAndGlyphs" >2</text>
<text x="325.52" y="526.60" font-size="8.40" text-anchor="middle" fill="#000" textLength="4.77" lengthAdjust="spacingAndGlyphs" >4</text>
<text x="10.90" y="495.40" font-size="11.80" text-anchor="middle" fill="#000" textLength="54.80" lengthAdjust="spacingAndGlyphs" transform="rotate(-90 10.90 495.40)" class="a">Residuals</text>
<text x="204.60" y="539.40" font-size="11.80" text-anchor="middle" fill="#000" textLength="131.45" lengthAdjust="spacingAndGlyphs" class="a">Hours from mid-transit</text>
</svg>
</body></html>
